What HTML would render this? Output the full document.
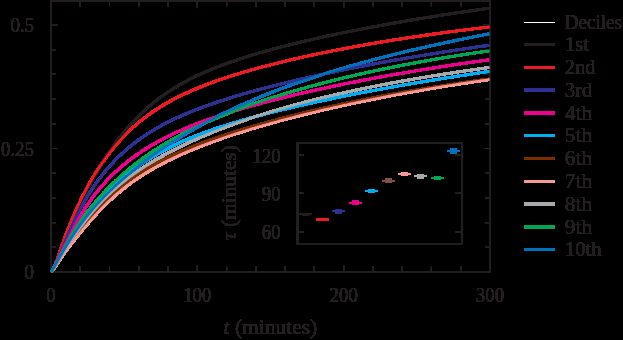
<!DOCTYPE html>
<html><head><meta charset="utf-8"><title>Deciles</title>
<style>html,body{margin:0;padding:0;background:#000;}svg{display:block;}text{font-family:"Liberation Serif",serif;font-size:20px;fill:#231f20;}</style></head><body>
<svg width="623" height="340" viewBox="0 0 623 340">
<defs><filter id="d" filterUnits="userSpaceOnUse" x="0" y="0" width="623" height="340" color-interpolation-filters="sRGB"><feComponentTransfer><feFuncA type="discrete" tableValues="0 1 1 1 1 1 1 1 1 1 1 1 1 1 1 1 1 1 1 1 1 1 1 1 1 1 1 1 1 1 1 1 1 1 1 1 1 1 1 1 1 1 1 1 1 1 1 1 1 1 1 1 1 1 1 1 1 1 1 1 1 1 1 1 1 1 1 1 1 1 1 1 1 1 1 1 1 1 1 1 1 1 1 1 1 1 1 1 1 1 1 1 1 1 1 1 1 1 1 1 1 1 1 1 1 1 1 1 1 1 1 1 1 1 1 1 1 1 1 1 1 1 1 1 1 1 1 1 1 1 1 1 1 1 1 1 1 1 1 1 1 1 1 1 1 1 1 1 1 1 1 1 1 1 1 1 1 1 1 1 1 1 1 1 1 1 1 1 1 1 1 1 1 1 1 1 1 1 1 1 1 1 1 1 1 1 1 1 1 1 1 1 1 1 1 1 1 1 1 1 1 1 1 1 1 1 1 1 1 1 1 1 1 1 1 1 1 1 1 1 1 1 1 1 1 1 1 1 1 1 1 1 1 1 1 1 1 1 1 1 1 1 1 1 1 1 1 1 1 1 1 1 1 1 1 1"/></feComponentTransfer></filter></defs>
<rect x="0" y="0" width="623" height="340" fill="#000"/>
<g filter="url(#d)">
<g stroke="#231f20" fill="none">
<rect x="51.00" y="1.00" width="439.00" height="271.00" stroke-width="1.40"/>
<path d="M80.27 272.00v-5.30M80.27 1.00v5.30M109.53 272.00v-5.30M109.53 1.00v5.30M138.80 272.00v-5.30M138.80 1.00v5.30M168.06 272.00v-5.30M168.06 1.00v5.30M197.33 272.00v-6.30M197.33 1.00v6.30M226.60 272.00v-5.30M226.60 1.00v5.30M255.86 272.00v-5.30M255.86 1.00v5.30M285.13 272.00v-5.30M285.13 1.00v5.30M314.39 272.00v-5.30M314.39 1.00v5.30M343.66 272.00v-6.30M343.66 1.00v6.30M372.93 272.00v-5.30M372.93 1.00v5.30M402.19 272.00v-5.30M402.19 1.00v5.30M431.46 272.00v-5.30M431.46 1.00v5.30M460.72 272.00v-5.30M460.72 1.00v5.30M51.00 247.30h5.00M490.00 247.30h-5.00M51.00 222.60h5.00M490.00 222.60h-5.00M51.00 197.90h5.00M490.00 197.90h-5.00M51.00 173.20h5.00M490.00 173.20h-5.00M51.00 148.50h6.30M490.00 148.50h-6.30M51.00 123.80h5.00M490.00 123.80h-5.00M51.00 99.10h5.00M490.00 99.10h-5.00M51.00 74.40h5.00M490.00 74.40h-5.00M51.00 49.70h5.00M490.00 49.70h-5.00M51.00 25.00h6.30M490.00 25.00h-6.30" stroke-width="0.90"/>
<rect x="297.50" y="143.00" width="164.50" height="101.00" stroke-width="1.40"/>
<path d="M297.50 155.30h6.4M462.00 155.30h-6.4M297.50 193.40h6.4M462.00 193.40h-6.4M297.50 231.90h6.4M462.00 231.90h-6.4" stroke-width="0.90"/>
</g>
<g fill="none" stroke-width="2.60" stroke-linejoin="round" stroke-linecap="butt">
<polyline stroke="#231f20" points="51.2,271.8 51.7,271.4 52.2,270.9 52.7,270.1 53.2,269.3 53.7,268.3 54.2,267.2 54.7,266.0 55.2,264.8 55.7,263.5 56.2,262.2 56.7,260.9 57.2,259.5 57.7,258.2 58.2,256.8 58.7,255.4 59.2,254.1 59.7,252.7 60.2,251.3 60.7,250.0 61.2,248.6 61.7,247.3 62.2,246.0 62.7,244.6 63.2,243.3 63.7,242.0 64.2,240.7 64.7,239.5 65.2,238.2 65.7,236.9 66.2,235.7 66.7,234.4 67.2,233.2 67.7,232.0 68.2,230.8 68.7,229.6 69.2,228.4 69.7,227.2 70.2,226.0 70.7,224.8 71.2,223.7 71.7,222.5 72.2,221.4 72.7,220.2 73.2,219.1 73.7,218.0 74.2,216.9 74.7,215.7 75.2,214.6 75.7,213.5 76.2,212.4 76.7,211.4 77.2,210.3 77.7,209.2 78.2,208.1 78.7,207.1 79.2,206.0 79.7,204.9 80.2,203.9 80.7,202.9 81.2,201.8 81.7,200.8 82.2,199.8 82.7,198.7 83.2,197.7 83.7,196.7 84.2,195.7 84.7,194.7 85.2,193.7 85.7,192.7 86.2,191.7 86.7,190.8 87.2,189.8 87.7,188.8 88.2,187.9 88.7,186.9 89.2,186.0 89.7,185.0 90.2,184.1 90.7,183.1 91.2,182.2 91.7,181.3 92.2,180.4 92.7,179.4 93.2,178.5 93.7,177.6 94.2,176.7 94.7,175.8 95.2,174.9 95.7,174.1 96.2,173.2 96.7,172.3 97.2,171.4 97.7,170.6 98.2,169.7 98.7,168.9 99.2,168.0 99.7,167.2 100.2,166.3 100.7,165.5 101.2,164.7 101.7,163.9 102.2,163.0 102.7,162.2 103.2,161.4 103.7,160.6 104.2,159.8 104.7,159.0 105.2,158.2 105.7,157.5 106.2,156.7 106.7,155.9 107.2,155.1 107.7,154.4 108.2,153.6 108.7,152.9 109.2,152.1 109.7,151.4 110.2,150.6 110.7,149.9 111.2,149.2 111.7,148.5 112.2,147.7 112.7,147.0 113.2,146.3 113.7,145.6 114.2,144.9 114.7,144.2 115.2,143.5 115.7,142.8 116.2,142.2 116.7,141.5 117.2,140.8 117.7,140.1 118.2,139.5 118.7,138.8 119.2,138.2 119.7,137.5 120.2,136.9 120.7,136.2 121.2,135.6 121.7,135.0 122.2,134.3 122.7,133.7 123.2,133.1 123.7,132.5 124.2,131.9 124.7,131.3 125.2,130.7 125.7,130.1 126.2,129.5 126.7,128.9 127.2,128.3 127.7,127.7 128.2,127.1 128.7,126.6 129.2,126.0 129.7,125.4 130.2,124.9 130.7,124.3 131.2,123.8 131.7,123.2 132.2,122.7 132.7,122.1 133.2,121.6 133.7,121.1 134.2,120.5 134.7,120.0 135.2,119.5 135.7,119.0 136.2,118.4 136.7,117.9 137.2,117.4 137.7,116.9 138.2,116.4 138.7,115.9 139.2,115.4 139.7,114.9 140.0,114.6 141.0,113.7 142.0,112.7 143.0,111.8 144.0,110.9 145.0,109.9 146.0,109.0 147.0,108.2 148.0,107.3 149.0,106.4 150.0,105.6 151.0,104.7 152.0,103.9 153.0,103.1 154.0,102.3 155.0,101.5 156.0,100.7 157.0,99.9 158.0,99.1 159.0,98.4 160.0,97.6 161.0,96.9 162.0,96.2 163.0,95.5 164.0,94.8 165.0,94.1 166.0,93.4 167.0,92.7 168.0,92.0 169.0,91.4 170.0,90.7 171.0,90.1 172.0,89.4 173.0,88.8 174.0,88.2 175.0,87.6 176.0,87.0 177.0,86.4 178.0,85.8 179.0,85.2 180.0,84.6 181.0,84.0 182.0,83.5 183.0,82.9 184.0,82.4 185.0,81.8 186.0,81.3 187.0,80.8 188.0,80.2 189.0,79.7 190.0,79.2 191.0,78.7 192.0,78.2 193.0,77.7 194.0,77.2 195.0,76.7 196.0,76.2 197.0,75.7 198.0,75.3 199.0,74.8 200.0,74.3 201.0,73.9 202.0,73.4 203.0,73.0 204.0,72.5 205.0,72.1 206.0,71.7 207.0,71.2 208.0,70.8 209.0,70.4 210.0,70.0 211.0,69.5 212.0,69.1 213.0,68.7 214.0,68.3 215.0,67.9 216.0,67.5 217.0,67.1 218.0,66.7 219.0,66.3 220.0,66.0 221.0,65.6 222.0,65.2 223.0,64.8 224.0,64.5 225.0,64.1 226.0,63.7 227.0,63.4 228.0,63.0 229.0,62.6 230.0,62.3 231.0,61.9 232.0,61.6 233.0,61.2 234.0,60.9 235.0,60.6 236.0,60.2 237.0,59.9 238.0,59.5 239.0,59.2 240.0,58.9 241.0,58.6 242.0,58.2 243.0,57.9 244.0,57.6 245.0,57.3 246.0,57.0 247.0,56.6 248.0,56.3 249.0,56.0 250.0,55.7 251.0,55.4 252.0,55.1 253.0,54.8 254.0,54.5 255.0,54.2 256.0,53.9 257.0,53.6 258.0,53.3 259.0,53.0 260.0,52.7 261.0,52.5 262.0,52.2 263.0,51.9 264.0,51.6 265.0,51.3 266.0,51.0 267.0,50.8 268.0,50.5 269.0,50.2 270.0,49.9 271.0,49.7 272.0,49.4 273.0,49.1 274.0,48.8 275.0,48.6 276.0,48.3 277.0,48.0 278.0,47.8 279.0,47.5 280.0,47.3 281.0,47.0 282.0,46.7 283.0,46.5 284.0,46.2 285.0,46.0 286.0,45.7 287.0,45.5 288.0,45.2 289.0,45.0 290.0,44.7 291.0,44.5 292.0,44.2 293.0,44.0 294.0,43.7 295.0,43.5 296.0,43.2 297.0,43.0 298.0,42.8 299.0,42.5 300.0,42.3 301.0,42.0 302.0,41.8 303.0,41.6 304.0,41.3 305.0,41.1 306.0,40.9 307.0,40.6 308.0,40.4 309.0,40.2 310.0,39.9 311.0,39.7 312.0,39.5 313.0,39.2 314.0,39.0 315.0,38.8 316.0,38.6 317.0,38.3 318.0,38.1 319.0,37.9 320.0,37.7 321.0,37.5 322.0,37.2 323.0,37.0 324.0,36.8 325.0,36.6 326.0,36.4 327.0,36.1 328.0,35.9 329.0,35.7 330.0,35.5 331.0,35.3 332.0,35.1 333.0,34.9 334.0,34.6 335.0,34.4 336.0,34.2 337.0,34.0 338.0,33.8 339.0,33.6 340.0,33.4 341.0,33.2 342.0,33.0 343.0,32.8 344.0,32.6 345.0,32.4 346.0,32.2 347.0,32.0 348.0,31.8 349.0,31.6 350.0,31.4 351.0,31.2 352.0,31.0 353.0,30.8 354.0,30.6 355.0,30.4 356.0,30.2 357.0,30.0 358.0,29.8 359.0,29.6 360.0,29.4 361.0,29.2 362.0,29.0 363.0,28.8 364.0,28.6 365.0,28.4 366.0,28.2 367.0,28.0 368.0,27.8 369.0,27.7 370.0,27.5 371.0,27.3 372.0,27.1 373.0,26.9 374.0,26.7 375.0,26.5 376.0,26.3 377.0,26.2 378.0,26.0 379.0,25.8 380.0,25.6 381.0,25.4 382.0,25.2 383.0,25.0 384.0,24.9 385.0,24.7 386.0,24.5 387.0,24.3 388.0,24.1 389.0,24.0 390.0,23.8 391.0,23.6 392.0,23.4 393.0,23.3 394.0,23.1 395.0,22.9 396.0,22.7 397.0,22.5 398.0,22.4 399.0,22.2 400.0,22.0 401.0,21.9 402.0,21.7 403.0,21.5 404.0,21.3 405.0,21.2 406.0,21.0 407.0,20.8 408.0,20.7 409.0,20.5 410.0,20.3 411.0,20.1 412.0,20.0 413.0,19.8 414.0,19.6 415.0,19.5 416.0,19.3 417.0,19.1 418.0,19.0 419.0,18.8 420.0,18.6 421.0,18.5 422.0,18.3 423.0,18.2 424.0,18.0 425.0,17.8 426.0,17.7 427.0,17.5 428.0,17.3 429.0,17.2 430.0,17.0 431.0,16.9 432.0,16.7 433.0,16.5 434.0,16.4 435.0,16.2 436.0,16.1 437.0,15.9 438.0,15.8 439.0,15.6 440.0,15.4 441.0,15.3 442.0,15.1 443.0,15.0 444.0,14.8 445.0,14.7 446.0,14.5 447.0,14.4 448.0,14.2 449.0,14.1 450.0,13.9 451.0,13.7 452.0,13.6 453.0,13.4 454.0,13.3 455.0,13.1 456.0,13.0 457.0,12.8 458.0,12.7 459.0,12.5 460.0,12.4 461.0,12.3 462.0,12.1 463.0,12.0 464.0,11.8 465.0,11.7 466.0,11.5 467.0,11.4 468.0,11.2 469.0,11.1 470.0,10.9 471.0,10.8 472.0,10.7 473.0,10.5 474.0,10.4 475.0,10.2 476.0,10.1 477.0,9.9 478.0,9.8 479.0,9.7 480.0,9.5 481.0,9.4 482.0,9.2 483.0,9.1 484.0,9.0 485.0,8.8 486.0,8.7 487.0,8.5 488.0,8.4 489.0,8.3 489.6,8.2"/>
<polyline stroke="#ed1c24" points="51.2,271.8 51.7,271.4 52.2,270.8 52.7,270.1 53.2,269.2 53.7,268.2 54.2,267.1 54.7,265.9 55.2,264.6 55.7,263.3 56.2,262.0 56.7,260.6 57.2,259.2 57.7,257.8 58.2,256.4 58.7,254.9 59.2,253.5 59.7,252.0 60.2,250.6 60.7,249.2 61.2,247.7 61.7,246.3 62.2,244.9 62.7,243.5 63.2,242.1 63.7,240.7 64.2,239.3 64.7,238.0 65.2,236.6 65.7,235.3 66.2,233.9 66.7,232.6 67.2,231.3 67.7,230.0 68.2,228.8 68.7,227.5 69.2,226.2 69.7,225.0 70.2,223.8 70.7,222.5 71.2,221.3 71.7,220.1 72.2,218.9 72.7,217.8 73.2,216.6 73.7,215.4 74.2,214.3 74.7,213.1 75.2,212.0 75.7,210.9 76.2,209.8 76.7,208.7 77.2,207.6 77.7,206.5 78.2,205.5 78.7,204.4 79.2,203.3 79.7,202.3 80.2,201.3 80.7,200.2 81.2,199.2 81.7,198.2 82.2,197.2 82.7,196.2 83.2,195.2 83.7,194.3 84.2,193.3 84.7,192.3 85.2,191.4 85.7,190.4 86.2,189.5 86.7,188.6 87.2,187.6 87.7,186.7 88.2,185.8 88.7,184.9 89.2,184.0 89.7,183.1 90.2,182.2 90.7,181.4 91.2,180.5 91.7,179.6 92.2,178.8 92.7,177.9 93.2,177.1 93.7,176.3 94.2,175.4 94.7,174.6 95.2,173.8 95.7,173.0 96.2,172.2 96.7,171.4 97.2,170.6 97.7,169.8 98.2,169.0 98.7,168.3 99.2,167.5 99.7,166.7 100.2,166.0 100.7,165.2 101.2,164.5 101.7,163.8 102.2,163.0 102.7,162.3 103.2,161.6 103.7,160.9 104.2,160.2 104.7,159.5 105.2,158.8 105.7,158.1 106.2,157.4 106.7,156.7 107.2,156.0 107.7,155.3 108.2,154.7 108.7,154.0 109.2,153.4 109.7,152.7 110.2,152.1 110.7,151.4 111.2,150.8 111.7,150.2 112.2,149.5 112.7,148.9 113.2,148.3 113.7,147.7 114.2,147.1 114.7,146.5 115.2,145.9 115.7,145.3 116.2,144.7 116.7,144.1 117.2,143.5 117.7,143.0 118.2,142.4 118.7,141.8 119.2,141.3 119.7,140.7 120.2,140.2 120.7,139.6 121.2,139.1 121.7,138.5 122.2,138.0 122.7,137.5 123.2,136.9 123.7,136.4 124.2,135.9 124.7,135.4 125.2,134.9 125.7,134.4 126.2,133.9 126.7,133.4 127.2,132.9 127.7,132.4 128.2,131.9 128.7,131.4 129.2,130.9 129.7,130.4 130.2,130.0 130.7,129.5 131.2,129.0 131.7,128.6 132.2,128.1 132.7,127.6 133.2,127.2 133.7,126.7 134.2,126.3 134.7,125.9 135.2,125.4 135.7,125.0 136.2,124.5 136.7,124.1 137.2,123.7 137.7,123.3 138.2,122.8 138.7,122.4 139.2,122.0 139.7,121.6 140.0,121.4 141.0,120.5 142.0,119.7 143.0,119.0 144.0,118.2 145.0,117.4 146.0,116.7 147.0,115.9 148.0,115.2 149.0,114.5 150.0,113.7 151.0,113.0 152.0,112.3 153.0,111.7 154.0,111.0 155.0,110.3 156.0,109.7 157.0,109.0 158.0,108.4 159.0,107.7 160.0,107.1 161.0,106.5 162.0,105.9 163.0,105.3 164.0,104.7 165.0,104.1 166.0,103.5 167.0,102.9 168.0,102.4 169.0,101.8 170.0,101.3 171.0,100.7 172.0,100.2 173.0,99.6 174.0,99.1 175.0,98.6 176.0,98.1 177.0,97.6 178.0,97.1 179.0,96.6 180.0,96.1 181.0,95.6 182.0,95.1 183.0,94.6 184.0,94.1 185.0,93.7 186.0,93.2 187.0,92.8 188.0,92.3 189.0,91.8 190.0,91.4 191.0,91.0 192.0,90.5 193.0,90.1 194.0,89.7 195.0,89.2 196.0,88.8 197.0,88.4 198.0,88.0 199.0,87.6 200.0,87.2 201.0,86.8 202.0,86.4 203.0,86.0 204.0,85.6 205.0,85.2 206.0,84.8 207.0,84.4 208.0,84.0 209.0,83.7 210.0,83.3 211.0,82.9 212.0,82.5 213.0,82.2 214.0,81.8 215.0,81.5 216.0,81.1 217.0,80.8 218.0,80.4 219.0,80.1 220.0,79.7 221.0,79.4 222.0,79.0 223.0,78.7 224.0,78.3 225.0,78.0 226.0,77.7 227.0,77.4 228.0,77.0 229.0,76.7 230.0,76.4 231.0,76.1 232.0,75.7 233.0,75.4 234.0,75.1 235.0,74.8 236.0,74.5 237.0,74.2 238.0,73.9 239.0,73.6 240.0,73.3 241.0,73.0 242.0,72.7 243.0,72.4 244.0,72.1 245.0,71.8 246.0,71.5 247.0,71.2 248.0,70.9 249.0,70.6 250.0,70.3 251.0,70.0 252.0,69.8 253.0,69.5 254.0,69.2 255.0,68.9 256.0,68.7 257.0,68.4 258.0,68.1 259.0,67.8 260.0,67.6 261.0,67.3 262.0,67.0 263.0,66.8 264.0,66.5 265.0,66.2 266.0,66.0 267.0,65.7 268.0,65.4 269.0,65.2 270.0,64.9 271.0,64.7 272.0,64.4 273.0,64.2 274.0,63.9 275.0,63.7 276.0,63.4 277.0,63.2 278.0,62.9 279.0,62.7 280.0,62.4 281.0,62.2 282.0,61.9 283.0,61.7 284.0,61.4 285.0,61.2 286.0,61.0 287.0,60.7 288.0,60.5 289.0,60.3 290.0,60.0 291.0,59.8 292.0,59.6 293.0,59.3 294.0,59.1 295.0,58.9 296.0,58.6 297.0,58.4 298.0,58.2 299.0,58.0 300.0,57.7 301.0,57.5 302.0,57.3 303.0,57.1 304.0,56.8 305.0,56.6 306.0,56.4 307.0,56.2 308.0,56.0 309.0,55.7 310.0,55.5 311.0,55.3 312.0,55.1 313.0,54.9 314.0,54.7 315.0,54.5 316.0,54.3 317.0,54.0 318.0,53.8 319.0,53.6 320.0,53.4 321.0,53.2 322.0,53.0 323.0,52.8 324.0,52.6 325.0,52.4 326.0,52.2 327.0,52.0 328.0,51.8 329.0,51.6 330.0,51.4 331.0,51.2 332.0,51.0 333.0,50.8 334.0,50.6 335.0,50.4 336.0,50.2 337.0,50.0 338.0,49.8 339.0,49.6 340.0,49.4 341.0,49.2 342.0,49.0 343.0,48.9 344.0,48.7 345.0,48.5 346.0,48.3 347.0,48.1 348.0,47.9 349.0,47.7 350.0,47.5 351.0,47.4 352.0,47.2 353.0,47.0 354.0,46.8 355.0,46.6 356.0,46.4 357.0,46.3 358.0,46.1 359.0,45.9 360.0,45.7 361.0,45.5 362.0,45.4 363.0,45.2 364.0,45.0 365.0,44.8 366.0,44.7 367.0,44.5 368.0,44.3 369.0,44.1 370.0,44.0 371.0,43.8 372.0,43.6 373.0,43.4 374.0,43.3 375.0,43.1 376.0,42.9 377.0,42.8 378.0,42.6 379.0,42.4 380.0,42.3 381.0,42.1 382.0,41.9 383.0,41.8 384.0,41.6 385.0,41.4 386.0,41.3 387.0,41.1 388.0,40.9 389.0,40.8 390.0,40.6 391.0,40.5 392.0,40.3 393.0,40.1 394.0,40.0 395.0,39.8 396.0,39.7 397.0,39.5 398.0,39.3 399.0,39.2 400.0,39.0 401.0,38.9 402.0,38.7 403.0,38.6 404.0,38.4 405.0,38.3 406.0,38.1 407.0,37.9 408.0,37.8 409.0,37.6 410.0,37.5 411.0,37.3 412.0,37.2 413.0,37.0 414.0,36.9 415.0,36.7 416.0,36.6 417.0,36.4 418.0,36.3 419.0,36.2 420.0,36.0 421.0,35.9 422.0,35.7 423.0,35.6 424.0,35.4 425.0,35.3 426.0,35.1 427.0,35.0 428.0,34.9 429.0,34.7 430.0,34.6 431.0,34.4 432.0,34.3 433.0,34.1 434.0,34.0 435.0,33.9 436.0,33.7 437.0,33.6 438.0,33.5 439.0,33.3 440.0,33.2 441.0,33.0 442.0,32.9 443.0,32.8 444.0,32.6 445.0,32.5 446.0,32.4 447.0,32.2 448.0,32.1 449.0,32.0 450.0,31.8 451.0,31.7 452.0,31.6 453.0,31.4 454.0,31.3 455.0,31.2 456.0,31.1 457.0,30.9 458.0,30.8 459.0,30.7 460.0,30.5 461.0,30.4 462.0,30.3 463.0,30.2 464.0,30.0 465.0,29.9 466.0,29.8 467.0,29.7 468.0,29.5 469.0,29.4 470.0,29.3 471.0,29.2 472.0,29.0 473.0,28.9 474.0,28.8 475.0,28.7 476.0,28.5 477.0,28.4 478.0,28.3 479.0,28.2 480.0,28.1 481.0,27.9 482.0,27.8 483.0,27.7 484.0,27.6 485.0,27.5 486.0,27.3 487.0,27.2 488.0,27.1 489.0,27.0 489.6,26.9"/>
<polyline stroke="#2e3192" points="51.2,271.8 51.7,271.2 52.2,270.5 52.7,269.7 53.2,268.9 53.7,268.0 54.2,267.1 54.7,266.1 55.2,265.0 55.7,263.9 56.2,262.8 56.7,261.7 57.2,260.5 57.7,259.4 58.2,258.2 58.7,256.9 59.2,255.7 59.7,254.5 60.2,253.2 60.7,252.0 61.2,250.8 61.7,249.5 62.2,248.3 62.7,247.0 63.2,245.8 63.7,244.5 64.2,243.3 64.7,242.1 65.2,240.9 65.7,239.7 66.2,238.5 66.7,237.3 67.2,236.1 67.7,234.9 68.2,233.7 68.7,232.6 69.2,231.4 69.7,230.3 70.2,229.2 70.7,228.0 71.2,226.9 71.7,225.8 72.2,224.8 72.7,223.7 73.2,222.6 73.7,221.6 74.2,220.5 74.7,219.5 75.2,218.5 75.7,217.4 76.2,216.4 76.7,215.4 77.2,214.5 77.7,213.5 78.2,212.5 78.7,211.6 79.2,210.6 79.7,209.7 80.2,208.7 80.7,207.8 81.2,206.9 81.7,206.0 82.2,205.1 82.7,204.2 83.2,203.3 83.7,202.5 84.2,201.6 84.7,200.7 85.2,199.9 85.7,199.1 86.2,198.2 86.7,197.4 87.2,196.6 87.7,195.8 88.2,195.0 88.7,194.2 89.2,193.4 89.7,192.6 90.2,191.8 90.7,191.1 91.2,190.3 91.7,189.5 92.2,188.8 92.7,188.0 93.2,187.3 93.7,186.6 94.2,185.8 94.7,185.1 95.2,184.4 95.7,183.7 96.2,183.0 96.7,182.3 97.2,181.6 97.7,180.9 98.2,180.3 98.7,179.6 99.2,178.9 99.7,178.3 100.2,177.6 100.7,177.0 101.2,176.3 101.7,175.7 102.2,175.0 102.7,174.4 103.2,173.8 103.7,173.2 104.2,172.6 104.7,171.9 105.2,171.3 105.7,170.7 106.2,170.1 106.7,169.6 107.2,169.0 107.7,168.4 108.2,167.8 108.7,167.2 109.2,166.7 109.7,166.1 110.2,165.5 110.7,165.0 111.2,164.4 111.7,163.9 112.2,163.4 112.7,162.8 113.2,162.3 113.7,161.8 114.2,161.2 114.7,160.7 115.2,160.2 115.7,159.7 116.2,159.2 116.7,158.7 117.2,158.2 117.7,157.7 118.2,157.2 118.7,156.7 119.2,156.2 119.7,155.7 120.2,155.2 120.7,154.8 121.2,154.3 121.7,153.8 122.2,153.4 122.7,152.9 123.2,152.4 123.7,152.0 124.2,151.5 124.7,151.1 125.2,150.7 125.7,150.2 126.2,149.8 126.7,149.3 127.2,148.9 127.7,148.5 128.2,148.1 128.7,147.6 129.2,147.2 129.7,146.8 130.2,146.4 130.7,146.0 131.2,145.6 131.7,145.2 132.2,144.8 132.7,144.4 133.2,144.0 133.7,143.6 134.2,143.2 134.7,142.8 135.2,142.4 135.7,142.0 136.2,141.7 136.7,141.3 137.2,140.9 137.7,140.6 138.2,140.2 138.7,139.8 139.2,139.5 139.7,139.1 140.0,138.9 141.0,138.2 142.0,137.5 143.0,136.8 144.0,136.1 145.0,135.4 146.0,134.8 147.0,134.1 148.0,133.5 149.0,132.8 150.0,132.2 151.0,131.6 152.0,131.0 153.0,130.4 154.0,129.8 155.0,129.2 156.0,128.6 157.0,128.0 158.0,127.4 159.0,126.9 160.0,126.3 161.0,125.8 162.0,125.2 163.0,124.7 164.0,124.1 165.0,123.6 166.0,123.1 167.0,122.6 168.0,122.1 169.0,121.6 170.0,121.1 171.0,120.6 172.0,120.1 173.0,119.6 174.0,119.1 175.0,118.7 176.0,118.2 177.0,117.7 178.0,117.3 179.0,116.8 180.0,116.4 181.0,115.9 182.0,115.5 183.0,115.1 184.0,114.6 185.0,114.2 186.0,113.8 187.0,113.3 188.0,112.9 189.0,112.5 190.0,112.1 191.0,111.7 192.0,111.3 193.0,110.9 194.0,110.5 195.0,110.1 196.0,109.7 197.0,109.3 198.0,108.9 199.0,108.6 200.0,108.2 201.0,107.8 202.0,107.4 203.0,107.1 204.0,106.7 205.0,106.3 206.0,106.0 207.0,105.6 208.0,105.3 209.0,104.9 210.0,104.5 211.0,104.2 212.0,103.9 213.0,103.5 214.0,103.2 215.0,102.8 216.0,102.5 217.0,102.2 218.0,101.8 219.0,101.5 220.0,101.2 221.0,100.8 222.0,100.5 223.0,100.2 224.0,99.9 225.0,99.5 226.0,99.2 227.0,98.9 228.0,98.6 229.0,98.3 230.0,98.0 231.0,97.7 232.0,97.4 233.0,97.0 234.0,96.7 235.0,96.4 236.0,96.1 237.0,95.8 238.0,95.5 239.0,95.2 240.0,95.0 241.0,94.7 242.0,94.4 243.0,94.1 244.0,93.8 245.0,93.5 246.0,93.2 247.0,92.9 248.0,92.6 249.0,92.4 250.0,92.1 251.0,91.8 252.0,91.5 253.0,91.2 254.0,91.0 255.0,90.7 256.0,90.4 257.0,90.1 258.0,89.9 259.0,89.6 260.0,89.3 261.0,89.1 262.0,88.8 263.0,88.5 264.0,88.3 265.0,88.0 266.0,87.7 267.0,87.5 268.0,87.2 269.0,87.0 270.0,86.7 271.0,86.4 272.0,86.2 273.0,85.9 274.0,85.7 275.0,85.4 276.0,85.2 277.0,84.9 278.0,84.7 279.0,84.4 280.0,84.2 281.0,83.9 282.0,83.7 283.0,83.4 284.0,83.2 285.0,82.9 286.0,82.7 287.0,82.5 288.0,82.2 289.0,82.0 290.0,81.7 291.0,81.5 292.0,81.3 293.0,81.0 294.0,80.8 295.0,80.5 296.0,80.3 297.0,80.1 298.0,79.8 299.0,79.6 300.0,79.4 301.0,79.1 302.0,78.9 303.0,78.7 304.0,78.4 305.0,78.2 306.0,78.0 307.0,77.8 308.0,77.5 309.0,77.3 310.0,77.1 311.0,76.9 312.0,76.6 313.0,76.4 314.0,76.2 315.0,76.0 316.0,75.7 317.0,75.5 318.0,75.3 319.0,75.1 320.0,74.9 321.0,74.7 322.0,74.4 323.0,74.2 324.0,74.0 325.0,73.8 326.0,73.6 327.0,73.4 328.0,73.1 329.0,72.9 330.0,72.7 331.0,72.5 332.0,72.3 333.0,72.1 334.0,71.9 335.0,71.7 336.0,71.5 337.0,71.3 338.0,71.0 339.0,70.8 340.0,70.6 341.0,70.4 342.0,70.2 343.0,70.0 344.0,69.8 345.0,69.6 346.0,69.4 347.0,69.2 348.0,69.0 349.0,68.8 350.0,68.6 351.0,68.4 352.0,68.2 353.0,68.0 354.0,67.8 355.0,67.6 356.0,67.4 357.0,67.2 358.0,67.0 359.0,66.8 360.0,66.6 361.0,66.4 362.0,66.2 363.0,66.0 364.0,65.9 365.0,65.7 366.0,65.5 367.0,65.3 368.0,65.1 369.0,64.9 370.0,64.7 371.0,64.5 372.0,64.3 373.0,64.1 374.0,63.9 375.0,63.8 376.0,63.6 377.0,63.4 378.0,63.2 379.0,63.0 380.0,62.8 381.0,62.6 382.0,62.5 383.0,62.3 384.0,62.1 385.0,61.9 386.0,61.7 387.0,61.5 388.0,61.4 389.0,61.2 390.0,61.0 391.0,60.8 392.0,60.6 393.0,60.5 394.0,60.3 395.0,60.1 396.0,59.9 397.0,59.8 398.0,59.6 399.0,59.4 400.0,59.2 401.0,59.1 402.0,58.9 403.0,58.7 404.0,58.5 405.0,58.4 406.0,58.2 407.0,58.0 408.0,57.8 409.0,57.7 410.0,57.5 411.0,57.3 412.0,57.2 413.0,57.0 414.0,56.8 415.0,56.7 416.0,56.5 417.0,56.3 418.0,56.2 419.0,56.0 420.0,55.8 421.0,55.7 422.0,55.5 423.0,55.3 424.0,55.2 425.0,55.0 426.0,54.8 427.0,54.7 428.0,54.5 429.0,54.3 430.0,54.2 431.0,54.0 432.0,53.9 433.0,53.7 434.0,53.5 435.0,53.4 436.0,53.2 437.0,53.0 438.0,52.9 439.0,52.7 440.0,52.6 441.0,52.4 442.0,52.3 443.0,52.1 444.0,51.9 445.0,51.8 446.0,51.6 447.0,51.5 448.0,51.3 449.0,51.2 450.0,51.0 451.0,50.9 452.0,50.7 453.0,50.6 454.0,50.4 455.0,50.2 456.0,50.1 457.0,49.9 458.0,49.8 459.0,49.6 460.0,49.5 461.0,49.3 462.0,49.2 463.0,49.0 464.0,48.9 465.0,48.7 466.0,48.6 467.0,48.4 468.0,48.3 469.0,48.2 470.0,48.0 471.0,47.9 472.0,47.7 473.0,47.6 474.0,47.4 475.0,47.3 476.0,47.1 477.0,47.0 478.0,46.8 479.0,46.7 480.0,46.6 481.0,46.4 482.0,46.3 483.0,46.1 484.0,46.0 485.0,45.9 486.0,45.7 487.0,45.6 488.0,45.4 489.0,45.3 489.6,45.2"/>
<polyline stroke="#ec008c" points="51.2,271.8 51.7,270.9 52.2,270.0 52.7,269.1 53.2,268.2 53.7,267.2 54.2,266.3 54.7,265.3 55.2,264.4 55.7,263.4 56.2,262.4 56.7,261.4 57.2,260.4 57.7,259.4 58.2,258.4 58.7,257.4 59.2,256.4 59.7,255.3 60.2,254.3 60.7,253.3 61.2,252.3 61.7,251.2 62.2,250.2 62.7,249.2 63.2,248.2 63.7,247.2 64.2,246.1 64.7,245.1 65.2,244.1 65.7,243.1 66.2,242.1 66.7,241.1 67.2,240.1 67.7,239.1 68.2,238.1 68.7,237.1 69.2,236.2 69.7,235.2 70.2,234.2 70.7,233.3 71.2,232.3 71.7,231.4 72.2,230.4 72.7,229.5 73.2,228.6 73.7,227.6 74.2,226.7 74.7,225.8 75.2,224.9 75.7,224.0 76.2,223.1 76.7,222.2 77.2,221.3 77.7,220.5 78.2,219.6 78.7,218.8 79.2,217.9 79.7,217.1 80.2,216.2 80.7,215.4 81.2,214.6 81.7,213.8 82.2,212.9 82.7,212.1 83.2,211.3 83.7,210.6 84.2,209.8 84.7,209.0 85.2,208.2 85.7,207.5 86.2,206.7 86.7,206.0 87.2,205.2 87.7,204.5 88.2,203.7 88.7,203.0 89.2,202.3 89.7,201.6 90.2,200.9 90.7,200.2 91.2,199.5 91.7,198.8 92.2,198.1 92.7,197.4 93.2,196.8 93.7,196.1 94.2,195.5 94.7,194.8 95.2,194.2 95.7,193.5 96.2,192.9 96.7,192.2 97.2,191.6 97.7,191.0 98.2,190.4 98.7,189.8 99.2,189.2 99.7,188.6 100.2,188.0 100.7,187.4 101.2,186.8 101.7,186.2 102.2,185.6 102.7,185.1 103.2,184.5 103.7,183.9 104.2,183.4 104.7,182.8 105.2,182.3 105.7,181.7 106.2,181.2 106.7,180.7 107.2,180.1 107.7,179.6 108.2,179.1 108.7,178.6 109.2,178.1 109.7,177.5 110.2,177.0 110.7,176.5 111.2,176.0 111.7,175.5 112.2,175.1 112.7,174.6 113.2,174.1 113.7,173.6 114.2,173.1 114.7,172.7 115.2,172.2 115.7,171.7 116.2,171.3 116.7,170.8 117.2,170.3 117.7,169.9 118.2,169.4 118.7,169.0 119.2,168.6 119.7,168.1 120.2,167.7 120.7,167.2 121.2,166.8 121.7,166.4 122.2,166.0 122.7,165.5 123.2,165.1 123.7,164.7 124.2,164.3 124.7,163.9 125.2,163.5 125.7,163.1 126.2,162.7 126.7,162.3 127.2,161.9 127.7,161.5 128.2,161.1 128.7,160.7 129.2,160.3 129.7,159.9 130.2,159.6 130.7,159.2 131.2,158.8 131.7,158.4 132.2,158.1 132.7,157.7 133.2,157.3 133.7,157.0 134.2,156.6 134.7,156.2 135.2,155.9 135.7,155.5 136.2,155.2 136.7,154.8 137.2,154.5 137.7,154.1 138.2,153.8 138.7,153.5 139.2,153.1 139.7,152.8 140.0,152.6 141.0,151.9 142.0,151.2 143.0,150.6 144.0,150.0 145.0,149.3 146.0,148.7 147.0,148.1 148.0,147.5 149.0,146.8 150.0,146.2 151.0,145.7 152.0,145.1 153.0,144.5 154.0,143.9 155.0,143.3 156.0,142.8 157.0,142.2 158.0,141.7 159.0,141.1 160.0,140.6 161.0,140.1 162.0,139.5 163.0,139.0 164.0,138.5 165.0,138.0 166.0,137.5 167.0,137.0 168.0,136.5 169.0,136.0 170.0,135.5 171.0,135.0 172.0,134.5 173.0,134.0 174.0,133.6 175.0,133.1 176.0,132.6 177.0,132.2 178.0,131.7 179.0,131.3 180.0,130.8 181.0,130.4 182.0,129.9 183.0,129.5 184.0,129.1 185.0,128.7 186.0,128.2 187.0,127.8 188.0,127.4 189.0,127.0 190.0,126.6 191.0,126.2 192.0,125.8 193.0,125.4 194.0,125.0 195.0,124.6 196.0,124.2 197.0,123.8 198.0,123.4 199.0,123.0 200.0,122.6 201.0,122.3 202.0,121.9 203.0,121.5 204.0,121.1 205.0,120.8 206.0,120.4 207.0,120.0 208.0,119.7 209.0,119.3 210.0,119.0 211.0,118.6 212.0,118.3 213.0,117.9 214.0,117.6 215.0,117.2 216.0,116.9 217.0,116.5 218.0,116.2 219.0,115.9 220.0,115.5 221.0,115.2 222.0,114.9 223.0,114.6 224.0,114.2 225.0,113.9 226.0,113.6 227.0,113.3 228.0,112.9 229.0,112.6 230.0,112.3 231.0,112.0 232.0,111.7 233.0,111.4 234.0,111.1 235.0,110.8 236.0,110.5 237.0,110.2 238.0,109.9 239.0,109.6 240.0,109.3 241.0,109.0 242.0,108.7 243.0,108.4 244.0,108.1 245.0,107.8 246.0,107.5 247.0,107.2 248.0,106.9 249.0,106.7 250.0,106.4 251.0,106.1 252.0,105.8 253.0,105.5 254.0,105.2 255.0,105.0 256.0,104.7 257.0,104.4 258.0,104.1 259.0,103.9 260.0,103.6 261.0,103.3 262.0,103.1 263.0,102.8 264.0,102.5 265.0,102.3 266.0,102.0 267.0,101.7 268.0,101.5 269.0,101.2 270.0,101.0 271.0,100.7 272.0,100.4 273.0,100.2 274.0,99.9 275.0,99.7 276.0,99.4 277.0,99.2 278.0,98.9 279.0,98.7 280.0,98.4 281.0,98.2 282.0,97.9 283.0,97.7 284.0,97.4 285.0,97.2 286.0,96.9 287.0,96.7 288.0,96.4 289.0,96.2 290.0,96.0 291.0,95.7 292.0,95.5 293.0,95.2 294.0,95.0 295.0,94.8 296.0,94.5 297.0,94.3 298.0,94.1 299.0,93.8 300.0,93.6 301.0,93.4 302.0,93.1 303.0,92.9 304.0,92.7 305.0,92.4 306.0,92.2 307.0,92.0 308.0,91.8 309.0,91.5 310.0,91.3 311.0,91.1 312.0,90.9 313.0,90.6 314.0,90.4 315.0,90.2 316.0,90.0 317.0,89.7 318.0,89.5 319.0,89.3 320.0,89.1 321.0,88.9 322.0,88.7 323.0,88.4 324.0,88.2 325.0,88.0 326.0,87.8 327.0,87.6 328.0,87.4 329.0,87.2 330.0,86.9 331.0,86.7 332.0,86.5 333.0,86.3 334.0,86.1 335.0,85.9 336.0,85.7 337.0,85.5 338.0,85.3 339.0,85.1 340.0,84.9 341.0,84.7 342.0,84.5 343.0,84.3 344.0,84.0 345.0,83.8 346.0,83.6 347.0,83.4 348.0,83.2 349.0,83.0 350.0,82.8 351.0,82.6 352.0,82.4 353.0,82.2 354.0,82.0 355.0,81.9 356.0,81.7 357.0,81.5 358.0,81.3 359.0,81.1 360.0,80.9 361.0,80.7 362.0,80.5 363.0,80.3 364.0,80.1 365.0,79.9 366.0,79.7 367.0,79.5 368.0,79.3 369.0,79.2 370.0,79.0 371.0,78.8 372.0,78.6 373.0,78.4 374.0,78.2 375.0,78.0 376.0,77.8 377.0,77.7 378.0,77.5 379.0,77.3 380.0,77.1 381.0,76.9 382.0,76.7 383.0,76.6 384.0,76.4 385.0,76.2 386.0,76.0 387.0,75.8 388.0,75.7 389.0,75.5 390.0,75.3 391.0,75.1 392.0,74.9 393.0,74.8 394.0,74.6 395.0,74.4 396.0,74.2 397.0,74.1 398.0,73.9 399.0,73.7 400.0,73.5 401.0,73.4 402.0,73.2 403.0,73.0 404.0,72.9 405.0,72.7 406.0,72.5 407.0,72.3 408.0,72.2 409.0,72.0 410.0,71.8 411.0,71.7 412.0,71.5 413.0,71.3 414.0,71.2 415.0,71.0 416.0,70.8 417.0,70.7 418.0,70.5 419.0,70.3 420.0,70.2 421.0,70.0 422.0,69.8 423.0,69.7 424.0,69.5 425.0,69.3 426.0,69.2 427.0,69.0 428.0,68.9 429.0,68.7 430.0,68.5 431.0,68.4 432.0,68.2 433.0,68.1 434.0,67.9 435.0,67.7 436.0,67.6 437.0,67.4 438.0,67.3 439.0,67.1 440.0,67.0 441.0,66.8 442.0,66.7 443.0,66.5 444.0,66.3 445.0,66.2 446.0,66.0 447.0,65.9 448.0,65.7 449.0,65.6 450.0,65.4 451.0,65.3 452.0,65.1 453.0,65.0 454.0,64.8 455.0,64.7 456.0,64.5 457.0,64.4 458.0,64.2 459.0,64.1 460.0,63.9 461.0,63.8 462.0,63.6 463.0,63.5 464.0,63.3 465.0,63.2 466.0,63.0 467.0,62.9 468.0,62.8 469.0,62.6 470.0,62.5 471.0,62.3 472.0,62.2 473.0,62.0 474.0,61.9 475.0,61.7 476.0,61.6 477.0,61.5 478.0,61.3 479.0,61.2 480.0,61.0 481.0,60.9 482.0,60.8 483.0,60.6 484.0,60.5 485.0,60.3 486.0,60.2 487.0,60.1 488.0,59.9 489.0,59.8 489.6,59.7"/>
<polyline stroke="#00aeef" points="51.2,271.8 51.7,270.9 52.2,270.1 52.7,269.2 53.2,268.4 53.7,267.5 54.2,266.6 54.7,265.7 55.2,264.8 55.7,264.0 56.2,263.1 56.7,262.2 57.2,261.3 57.7,260.4 58.2,259.5 58.7,258.6 59.2,257.7 59.7,256.8 60.2,256.0 60.7,255.1 61.2,254.2 61.7,253.3 62.2,252.5 62.7,251.6 63.2,250.7 63.7,249.9 64.2,249.0 64.7,248.2 65.2,247.4 65.7,246.5 66.2,245.7 66.7,244.9 67.2,244.1 67.7,243.3 68.2,242.5 68.7,241.6 69.2,240.9 69.7,240.1 70.2,239.3 70.7,238.5 71.2,237.7 71.7,237.0 72.2,236.2 72.7,235.4 73.2,234.7 73.7,233.9 74.2,233.2 74.7,232.4 75.2,231.7 75.7,231.0 76.2,230.2 76.7,229.5 77.2,228.8 77.7,228.1 78.2,227.4 78.7,226.7 79.2,226.0 79.7,225.3 80.2,224.6 80.7,223.9 81.2,223.2 81.7,222.5 82.2,221.9 82.7,221.2 83.2,220.5 83.7,219.9 84.2,219.2 84.7,218.5 85.2,217.9 85.7,217.2 86.2,216.6 86.7,216.0 87.2,215.3 87.7,214.7 88.2,214.0 88.7,213.4 89.2,212.8 89.7,212.2 90.2,211.6 90.7,211.0 91.2,210.3 91.7,209.7 92.2,209.1 92.7,208.5 93.2,207.9 93.7,207.4 94.2,206.8 94.7,206.2 95.2,205.6 95.7,205.0 96.2,204.4 96.7,203.9 97.2,203.3 97.7,202.7 98.2,202.2 98.7,201.6 99.2,201.1 99.7,200.5 100.2,199.9 100.7,199.4 101.2,198.9 101.7,198.3 102.2,197.8 102.7,197.2 103.2,196.7 103.7,196.2 104.2,195.7 104.7,195.1 105.2,194.6 105.7,194.1 106.2,193.6 106.7,193.1 107.2,192.6 107.7,192.1 108.2,191.6 108.7,191.1 109.2,190.6 109.7,190.1 110.2,189.6 110.7,189.1 111.2,188.6 111.7,188.1 112.2,187.6 112.7,187.2 113.2,186.7 113.7,186.2 114.2,185.7 114.7,185.3 115.2,184.8 115.7,184.4 116.2,183.9 116.7,183.4 117.2,183.0 117.7,182.5 118.2,182.1 118.7,181.7 119.2,181.2 119.7,180.8 120.2,180.3 120.7,179.9 121.2,179.5 121.7,179.0 122.2,178.6 122.7,178.2 123.2,177.8 123.7,177.3 124.2,176.9 124.7,176.5 125.2,176.1 125.7,175.7 126.2,175.3 126.7,174.9 127.2,174.5 127.7,174.1 128.2,173.7 128.7,173.3 129.2,172.9 129.7,172.5 130.2,172.1 130.7,171.7 131.2,171.3 131.7,170.9 132.2,170.6 132.7,170.2 133.2,169.8 133.7,169.4 134.2,169.1 134.7,168.7 135.2,168.3 135.7,168.0 136.2,167.6 136.7,167.2 137.2,166.9 137.7,166.5 138.2,166.2 138.7,165.8 139.2,165.5 139.7,165.1 140.0,164.9 141.0,164.2 142.0,163.6 143.0,162.9 144.0,162.2 145.0,161.6 146.0,160.9 147.0,160.3 148.0,159.6 149.0,159.0 150.0,158.4 151.0,157.8 152.0,157.2 153.0,156.6 154.0,156.0 155.0,155.4 156.0,154.8 157.0,154.2 158.0,153.7 159.0,153.1 160.0,152.5 161.0,152.0 162.0,151.4 163.0,150.9 164.0,150.4 165.0,149.8 166.0,149.3 167.0,148.8 168.0,148.3 169.0,147.8 170.0,147.3 171.0,146.8 172.0,146.3 173.0,145.8 174.0,145.3 175.0,144.8 176.0,144.4 177.0,143.9 178.0,143.4 179.0,143.0 180.0,142.5 181.0,142.1 182.0,141.6 183.0,141.2 184.0,140.7 185.0,140.3 186.0,139.9 187.0,139.5 188.0,139.0 189.0,138.6 190.0,138.2 191.0,137.8 192.0,137.4 193.0,137.0 194.0,136.6 195.0,136.2 196.0,135.8 197.0,135.4 198.0,135.0 199.0,134.6 200.0,134.2 201.0,133.9 202.0,133.5 203.0,133.1 204.0,132.7 205.0,132.4 206.0,132.0 207.0,131.6 208.0,131.3 209.0,130.9 210.0,130.6 211.0,130.2 212.0,129.9 213.0,129.5 214.0,129.2 215.0,128.8 216.0,128.5 217.0,128.2 218.0,127.8 219.0,127.5 220.0,127.2 221.0,126.8 222.0,126.5 223.0,126.2 224.0,125.9 225.0,125.6 226.0,125.2 227.0,124.9 228.0,124.6 229.0,124.3 230.0,124.0 231.0,123.7 232.0,123.4 233.0,123.1 234.0,122.8 235.0,122.5 236.0,122.2 237.0,121.9 238.0,121.6 239.0,121.3 240.0,121.0 241.0,120.7 242.0,120.4 243.0,120.1 244.0,119.8 245.0,119.5 246.0,119.3 247.0,119.0 248.0,118.7 249.0,118.4 250.0,118.1 251.0,117.9 252.0,117.6 253.0,117.3 254.0,117.0 255.0,116.8 256.0,116.5 257.0,116.2 258.0,116.0 259.0,115.7 260.0,115.4 261.0,115.2 262.0,114.9 263.0,114.6 264.0,114.4 265.0,114.1 266.0,113.8 267.0,113.6 268.0,113.3 269.0,113.1 270.0,112.8 271.0,112.6 272.0,112.3 273.0,112.1 274.0,111.8 275.0,111.6 276.0,111.3 277.0,111.1 278.0,110.8 279.0,110.6 280.0,110.3 281.0,110.1 282.0,109.8 283.0,109.6 284.0,109.4 285.0,109.1 286.0,108.9 287.0,108.6 288.0,108.4 289.0,108.2 290.0,107.9 291.0,107.7 292.0,107.5 293.0,107.2 294.0,107.0 295.0,106.8 296.0,106.5 297.0,106.3 298.0,106.1 299.0,105.8 300.0,105.6 301.0,105.4 302.0,105.2 303.0,104.9 304.0,104.7 305.0,104.5 306.0,104.3 307.0,104.0 308.0,103.8 309.0,103.6 310.0,103.4 311.0,103.1 312.0,102.9 313.0,102.7 314.0,102.5 315.0,102.3 316.0,102.0 317.0,101.8 318.0,101.6 319.0,101.4 320.0,101.2 321.0,101.0 322.0,100.8 323.0,100.5 324.0,100.3 325.0,100.1 326.0,99.9 327.0,99.7 328.0,99.5 329.0,99.3 330.0,99.1 331.0,98.9 332.0,98.6 333.0,98.4 334.0,98.2 335.0,98.0 336.0,97.8 337.0,97.6 338.0,97.4 339.0,97.2 340.0,97.0 341.0,96.8 342.0,96.6 343.0,96.4 344.0,96.2 345.0,96.0 346.0,95.8 347.0,95.6 348.0,95.4 349.0,95.2 350.0,95.0 351.0,94.8 352.0,94.6 353.0,94.4 354.0,94.2 355.0,94.0 356.0,93.8 357.0,93.6 358.0,93.4 359.0,93.2 360.0,93.0 361.0,92.8 362.0,92.6 363.0,92.5 364.0,92.3 365.0,92.1 366.0,91.9 367.0,91.7 368.0,91.5 369.0,91.3 370.0,91.1 371.0,90.9 372.0,90.7 373.0,90.6 374.0,90.4 375.0,90.2 376.0,90.0 377.0,89.8 378.0,89.6 379.0,89.4 380.0,89.3 381.0,89.1 382.0,88.9 383.0,88.7 384.0,88.5 385.0,88.3 386.0,88.2 387.0,88.0 388.0,87.8 389.0,87.6 390.0,87.4 391.0,87.3 392.0,87.1 393.0,86.9 394.0,86.7 395.0,86.5 396.0,86.4 397.0,86.2 398.0,86.0 399.0,85.8 400.0,85.7 401.0,85.5 402.0,85.3 403.0,85.1 404.0,85.0 405.0,84.8 406.0,84.6 407.0,84.4 408.0,84.3 409.0,84.1 410.0,83.9 411.0,83.7 412.0,83.6 413.0,83.4 414.0,83.2 415.0,83.1 416.0,82.9 417.0,82.7 418.0,82.6 419.0,82.4 420.0,82.2 421.0,82.0 422.0,81.9 423.0,81.7 424.0,81.5 425.0,81.4 426.0,81.2 427.0,81.0 428.0,80.9 429.0,80.7 430.0,80.6 431.0,80.4 432.0,80.2 433.0,80.1 434.0,79.9 435.0,79.7 436.0,79.6 437.0,79.4 438.0,79.3 439.0,79.1 440.0,78.9 441.0,78.8 442.0,78.6 443.0,78.4 444.0,78.3 445.0,78.1 446.0,78.0 447.0,77.8 448.0,77.7 449.0,77.5 450.0,77.3 451.0,77.2 452.0,77.0 453.0,76.9 454.0,76.7 455.0,76.6 456.0,76.4 457.0,76.2 458.0,76.1 459.0,75.9 460.0,75.8 461.0,75.6 462.0,75.5 463.0,75.3 464.0,75.2 465.0,75.0 466.0,74.9 467.0,74.7 468.0,74.6 469.0,74.4 470.0,74.3 471.0,74.1 472.0,74.0 473.0,73.8 474.0,73.7 475.0,73.5 476.0,73.4 477.0,73.2 478.0,73.1 479.0,72.9 480.0,72.8 481.0,72.6 482.0,72.5 483.0,72.3 484.0,72.2 485.0,72.0 486.0,71.9 487.0,71.8 488.0,71.6 489.0,71.5 489.6,71.4"/>
<polyline stroke="#7b2e00" points="51.2,271.8 51.7,271.4 52.2,270.9 52.7,270.4 53.2,269.8 53.7,269.1 54.2,268.3 54.7,267.5 55.2,266.8 55.7,265.9 56.2,265.1 56.7,264.3 57.2,263.5 57.7,262.6 58.2,261.8 58.7,261.0 59.2,260.2 59.7,259.3 60.2,258.5 60.7,257.8 61.2,257.0 61.7,256.2 62.2,255.4 62.7,254.6 63.2,253.9 63.7,253.1 64.2,252.4 64.7,251.6 65.2,250.9 65.7,250.2 66.2,249.4 66.7,248.7 67.2,248.0 67.7,247.3 68.2,246.6 68.7,245.9 69.2,245.2 69.7,244.5 70.2,243.8 70.7,243.1 71.2,242.4 71.7,241.7 72.2,241.0 72.7,240.3 73.2,239.6 73.7,238.9 74.2,238.2 74.7,237.5 75.2,236.9 75.7,236.2 76.2,235.5 76.7,234.8 77.2,234.1 77.7,233.5 78.2,232.8 78.7,232.1 79.2,231.5 79.7,230.8 80.2,230.2 80.7,229.5 81.2,228.8 81.7,228.2 82.2,227.5 82.7,226.9 83.2,226.2 83.7,225.6 84.2,225.0 84.7,224.3 85.2,223.7 85.7,223.1 86.2,222.4 86.7,221.8 87.2,221.2 87.7,220.6 88.2,219.9 88.7,219.3 89.2,218.7 89.7,218.1 90.2,217.5 90.7,216.9 91.2,216.3 91.7,215.7 92.2,215.1 92.7,214.5 93.2,214.0 93.7,213.4 94.2,212.8 94.7,212.2 95.2,211.7 95.7,211.1 96.2,210.5 96.7,210.0 97.2,209.4 97.7,208.8 98.2,208.3 98.7,207.8 99.2,207.2 99.7,206.7 100.2,206.1 100.7,205.6 101.2,205.1 101.7,204.5 102.2,204.0 102.7,203.5 103.2,203.0 103.7,202.5 104.2,202.0 104.7,201.4 105.2,200.9 105.7,200.4 106.2,199.9 106.7,199.5 107.2,199.0 107.7,198.5 108.2,198.0 108.7,197.5 109.2,197.0 109.7,196.6 110.2,196.1 110.7,195.6 111.2,195.2 111.7,194.7 112.2,194.2 112.7,193.8 113.2,193.3 113.7,192.9 114.2,192.4 114.7,192.0 115.2,191.5 115.7,191.1 116.2,190.7 116.7,190.2 117.2,189.8 117.7,189.4 118.2,189.0 118.7,188.5 119.2,188.1 119.7,187.7 120.2,187.3 120.7,186.9 121.2,186.5 121.7,186.1 122.2,185.7 122.7,185.3 123.2,184.9 123.7,184.5 124.2,184.1 124.7,183.7 125.2,183.3 125.7,182.9 126.2,182.6 126.7,182.2 127.2,181.8 127.7,181.4 128.2,181.1 128.7,180.7 129.2,180.3 129.7,180.0 130.2,179.6 130.7,179.2 131.2,178.9 131.7,178.5 132.2,178.2 132.7,177.8 133.2,177.5 133.7,177.1 134.2,176.8 134.7,176.4 135.2,176.1 135.7,175.8 136.2,175.4 136.7,175.1 137.2,174.8 137.7,174.4 138.2,174.1 138.7,173.8 139.2,173.5 139.7,173.1 140.0,172.9 141.0,172.3 142.0,171.7 143.0,171.1 144.0,170.4 145.0,169.8 146.0,169.2 147.0,168.6 148.0,168.0 149.0,167.5 150.0,166.9 151.0,166.3 152.0,165.8 153.0,165.2 154.0,164.7 155.0,164.1 156.0,163.6 157.0,163.0 158.0,162.5 159.0,162.0 160.0,161.5 161.0,160.9 162.0,160.4 163.0,159.9 164.0,159.4 165.0,158.9 166.0,158.4 167.0,158.0 168.0,157.5 169.0,157.0 170.0,156.5 171.0,156.0 172.0,155.6 173.0,155.1 174.0,154.7 175.0,154.2 176.0,153.8 177.0,153.3 178.0,152.9 179.0,152.4 180.0,152.0 181.0,151.6 182.0,151.1 183.0,150.7 184.0,150.3 185.0,149.8 186.0,149.4 187.0,149.0 188.0,148.6 189.0,148.2 190.0,147.8 191.0,147.4 192.0,147.0 193.0,146.6 194.0,146.2 195.0,145.8 196.0,145.4 197.0,145.0 198.0,144.6 199.0,144.2 200.0,143.9 201.0,143.5 202.0,143.1 203.0,142.7 204.0,142.4 205.0,142.0 206.0,141.6 207.0,141.3 208.0,140.9 209.0,140.5 210.0,140.2 211.0,139.8 212.0,139.5 213.0,139.1 214.0,138.8 215.0,138.4 216.0,138.1 217.0,137.7 218.0,137.4 219.0,137.0 220.0,136.7 221.0,136.4 222.0,136.0 223.0,135.7 224.0,135.4 225.0,135.0 226.0,134.7 227.0,134.4 228.0,134.0 229.0,133.7 230.0,133.4 231.0,133.1 232.0,132.7 233.0,132.4 234.0,132.1 235.0,131.8 236.0,131.5 237.0,131.2 238.0,130.8 239.0,130.5 240.0,130.2 241.0,129.9 242.0,129.6 243.0,129.3 244.0,129.0 245.0,128.7 246.0,128.4 247.0,128.1 248.0,127.8 249.0,127.5 250.0,127.2 251.0,126.9 252.0,126.6 253.0,126.3 254.0,126.0 255.0,125.7 256.0,125.5 257.0,125.2 258.0,124.9 259.0,124.6 260.0,124.3 261.0,124.0 262.0,123.7 263.0,123.5 264.0,123.2 265.0,122.9 266.0,122.6 267.0,122.3 268.0,122.1 269.0,121.8 270.0,121.5 271.0,121.2 272.0,121.0 273.0,120.7 274.0,120.4 275.0,120.2 276.0,119.9 277.0,119.6 278.0,119.4 279.0,119.1 280.0,118.8 281.0,118.6 282.0,118.3 283.0,118.1 284.0,117.8 285.0,117.5 286.0,117.3 287.0,117.0 288.0,116.8 289.0,116.5 290.0,116.2 291.0,116.0 292.0,115.7 293.0,115.5 294.0,115.2 295.0,115.0 296.0,114.7 297.0,114.5 298.0,114.2 299.0,114.0 300.0,113.8 301.0,113.5 302.0,113.3 303.0,113.0 304.0,112.8 305.0,112.5 306.0,112.3 307.0,112.1 308.0,111.8 309.0,111.6 310.0,111.3 311.0,111.1 312.0,110.9 313.0,110.6 314.0,110.4 315.0,110.2 316.0,109.9 317.0,109.7 318.0,109.5 319.0,109.2 320.0,109.0 321.0,108.8 322.0,108.6 323.0,108.3 324.0,108.1 325.0,107.9 326.0,107.6 327.0,107.4 328.0,107.2 329.0,107.0 330.0,106.8 331.0,106.5 332.0,106.3 333.0,106.1 334.0,105.9 335.0,105.7 336.0,105.4 337.0,105.2 338.0,105.0 339.0,104.8 340.0,104.6 341.0,104.4 342.0,104.1 343.0,103.9 344.0,103.7 345.0,103.5 346.0,103.3 347.0,103.1 348.0,102.9 349.0,102.7 350.0,102.5 351.0,102.2 352.0,102.0 353.0,101.8 354.0,101.6 355.0,101.4 356.0,101.2 357.0,101.0 358.0,100.8 359.0,100.6 360.0,100.4 361.0,100.2 362.0,100.0 363.0,99.8 364.0,99.6 365.0,99.4 366.0,99.2 367.0,99.0 368.0,98.8 369.0,98.6 370.0,98.4 371.0,98.2 372.0,98.0 373.0,97.8 374.0,97.7 375.0,97.5 376.0,97.3 377.0,97.1 378.0,96.9 379.0,96.7 380.0,96.5 381.0,96.3 382.0,96.1 383.0,95.9 384.0,95.8 385.0,95.6 386.0,95.4 387.0,95.2 388.0,95.0 389.0,94.8 390.0,94.6 391.0,94.5 392.0,94.3 393.0,94.1 394.0,93.9 395.0,93.7 396.0,93.6 397.0,93.4 398.0,93.2 399.0,93.0 400.0,92.8 401.0,92.7 402.0,92.5 403.0,92.3 404.0,92.1 405.0,92.0 406.0,91.8 407.0,91.6 408.0,91.4 409.0,91.3 410.0,91.1 411.0,90.9 412.0,90.8 413.0,90.6 414.0,90.4 415.0,90.2 416.0,90.1 417.0,89.9 418.0,89.7 419.0,89.6 420.0,89.4 421.0,89.2 422.0,89.1 423.0,88.9 424.0,88.7 425.0,88.6 426.0,88.4 427.0,88.2 428.0,88.1 429.0,87.9 430.0,87.8 431.0,87.6 432.0,87.4 433.0,87.3 434.0,87.1 435.0,87.0 436.0,86.8 437.0,86.6 438.0,86.5 439.0,86.3 440.0,86.2 441.0,86.0 442.0,85.8 443.0,85.7 444.0,85.5 445.0,85.4 446.0,85.2 447.0,85.1 448.0,84.9 449.0,84.8 450.0,84.6 451.0,84.5 452.0,84.3 453.0,84.2 454.0,84.0 455.0,83.9 456.0,83.7 457.0,83.6 458.0,83.4 459.0,83.3 460.0,83.1 461.0,83.0 462.0,82.8 463.0,82.7 464.0,82.5 465.0,82.4 466.0,82.2 467.0,82.1 468.0,81.9 469.0,81.8 470.0,81.7 471.0,81.5 472.0,81.4 473.0,81.2 474.0,81.1 475.0,80.9 476.0,80.8 477.0,80.7 478.0,80.5 479.0,80.4 480.0,80.2 481.0,80.1 482.0,80.0 483.0,79.8 484.0,79.7 485.0,79.6 486.0,79.4 487.0,79.3 488.0,79.2 489.0,79.0 489.6,78.9"/>
<polyline stroke="#f89894" points="51.2,271.8 51.7,271.4 52.2,271.0 52.7,270.4 53.2,269.8 53.7,269.2 54.2,268.4 54.7,267.7 55.2,266.9 55.7,266.2 56.2,265.4 56.7,264.6 57.2,263.8 57.7,263.0 58.2,262.2 58.7,261.5 59.2,260.7 59.7,259.9 60.2,259.2 60.7,258.4 61.2,257.7 61.7,257.0 62.2,256.3 62.7,255.5 63.2,254.8 63.7,254.1 64.2,253.5 64.7,252.8 65.2,252.1 65.7,251.4 66.2,250.7 66.7,250.1 67.2,249.4 67.7,248.7 68.2,248.1 68.7,247.4 69.2,246.8 69.7,246.1 70.2,245.5 70.7,244.8 71.2,244.2 71.7,243.6 72.2,242.9 72.7,242.3 73.2,241.6 73.7,241.0 74.2,240.4 74.7,239.7 75.2,239.1 75.7,238.5 76.2,237.8 76.7,237.2 77.2,236.6 77.7,236.0 78.2,235.3 78.7,234.7 79.2,234.1 79.7,233.5 80.2,232.9 80.7,232.3 81.2,231.6 81.7,231.0 82.2,230.4 82.7,229.8 83.2,229.2 83.7,228.6 84.2,228.0 84.7,227.4 85.2,226.8 85.7,226.2 86.2,225.6 86.7,225.0 87.2,224.4 87.7,223.9 88.2,223.3 88.7,222.7 89.2,222.1 89.7,221.5 90.2,221.0 90.7,220.4 91.2,219.8 91.7,219.2 92.2,218.7 92.7,218.1 93.2,217.6 93.7,217.0 94.2,216.4 94.7,215.9 95.2,215.3 95.7,214.8 96.2,214.3 96.7,213.7 97.2,213.2 97.7,212.6 98.2,212.1 98.7,211.6 99.2,211.0 99.7,210.5 100.2,210.0 100.7,209.5 101.2,209.0 101.7,208.5 102.2,207.9 102.7,207.4 103.2,206.9 103.7,206.4 104.2,205.9 104.7,205.4 105.2,204.9 105.7,204.4 106.2,204.0 106.7,203.5 107.2,203.0 107.7,202.5 108.2,202.0 108.7,201.6 109.2,201.1 109.7,200.6 110.2,200.2 110.7,199.7 111.2,199.2 111.7,198.8 112.2,198.3 112.7,197.9 113.2,197.4 113.7,197.0 114.2,196.5 114.7,196.1 115.2,195.6 115.7,195.2 116.2,194.8 116.7,194.3 117.2,193.9 117.7,193.5 118.2,193.1 118.7,192.6 119.2,192.2 119.7,191.8 120.2,191.4 120.7,191.0 121.2,190.6 121.7,190.2 122.2,189.7 122.7,189.3 123.2,188.9 123.7,188.5 124.2,188.2 124.7,187.8 125.2,187.4 125.7,187.0 126.2,186.6 126.7,186.2 127.2,185.8 127.7,185.5 128.2,185.1 128.7,184.7 129.2,184.3 129.7,184.0 130.2,183.6 130.7,183.2 131.2,182.9 131.7,182.5 132.2,182.1 132.7,181.8 133.2,181.4 133.7,181.1 134.2,180.7 134.7,180.4 135.2,180.0 135.7,179.7 136.2,179.3 136.7,179.0 137.2,178.6 137.7,178.3 138.2,178.0 138.7,177.6 139.2,177.3 139.7,177.0 140.0,176.8 141.0,176.1 142.0,175.5 143.0,174.8 144.0,174.2 145.0,173.6 146.0,172.9 147.0,172.3 148.0,171.7 149.0,171.1 150.0,170.5 151.0,169.9 152.0,169.4 153.0,168.8 154.0,168.2 155.0,167.6 156.0,167.1 157.0,166.5 158.0,166.0 159.0,165.4 160.0,164.9 161.0,164.4 162.0,163.8 163.0,163.3 164.0,162.8 165.0,162.3 166.0,161.8 167.0,161.2 168.0,160.7 169.0,160.2 170.0,159.8 171.0,159.3 172.0,158.8 173.0,158.3 174.0,157.8 175.0,157.3 176.0,156.9 177.0,156.4 178.0,156.0 179.0,155.5 180.0,155.0 181.0,154.6 182.0,154.1 183.0,153.7 184.0,153.3 185.0,152.8 186.0,152.4 187.0,151.9 188.0,151.5 189.0,151.1 190.0,150.7 191.0,150.3 192.0,149.8 193.0,149.4 194.0,149.0 195.0,148.6 196.0,148.2 197.0,147.8 198.0,147.4 199.0,147.0 200.0,146.6 201.0,146.2 202.0,145.8 203.0,145.4 204.0,145.1 205.0,144.7 206.0,144.3 207.0,143.9 208.0,143.5 209.0,143.2 210.0,142.8 211.0,142.4 212.0,142.1 213.0,141.7 214.0,141.3 215.0,141.0 216.0,140.6 217.0,140.2 218.0,139.9 219.0,139.5 220.0,139.2 221.0,138.8 222.0,138.5 223.0,138.1 224.0,137.8 225.0,137.5 226.0,137.1 227.0,136.8 228.0,136.4 229.0,136.1 230.0,135.8 231.0,135.4 232.0,135.1 233.0,134.8 234.0,134.5 235.0,134.1 236.0,133.8 237.0,133.5 238.0,133.2 239.0,132.8 240.0,132.5 241.0,132.2 242.0,131.9 243.0,131.6 244.0,131.3 245.0,131.0 246.0,130.6 247.0,130.3 248.0,130.0 249.0,129.7 250.0,129.4 251.0,129.1 252.0,128.8 253.0,128.5 254.0,128.2 255.0,127.9 256.0,127.6 257.0,127.3 258.0,127.0 259.0,126.7 260.0,126.4 261.0,126.2 262.0,125.9 263.0,125.6 264.0,125.3 265.0,125.0 266.0,124.7 267.0,124.4 268.0,124.2 269.0,123.9 270.0,123.6 271.0,123.3 272.0,123.0 273.0,122.8 274.0,122.5 275.0,122.2 276.0,121.9 277.0,121.7 278.0,121.4 279.0,121.1 280.0,120.8 281.0,120.6 282.0,120.3 283.0,120.0 284.0,119.8 285.0,119.5 286.0,119.2 287.0,119.0 288.0,118.7 289.0,118.5 290.0,118.2 291.0,117.9 292.0,117.7 293.0,117.4 294.0,117.2 295.0,116.9 296.0,116.6 297.0,116.4 298.0,116.1 299.0,115.9 300.0,115.6 301.0,115.4 302.0,115.1 303.0,114.9 304.0,114.6 305.0,114.4 306.0,114.1 307.0,113.9 308.0,113.6 309.0,113.4 310.0,113.2 311.0,112.9 312.0,112.7 313.0,112.4 314.0,112.2 315.0,112.0 316.0,111.7 317.0,111.5 318.0,111.2 319.0,111.0 320.0,110.8 321.0,110.5 322.0,110.3 323.0,110.1 324.0,109.8 325.0,109.6 326.0,109.4 327.0,109.1 328.0,108.9 329.0,108.7 330.0,108.5 331.0,108.2 332.0,108.0 333.0,107.8 334.0,107.5 335.0,107.3 336.0,107.1 337.0,106.9 338.0,106.7 339.0,106.4 340.0,106.2 341.0,106.0 342.0,105.8 343.0,105.5 344.0,105.3 345.0,105.1 346.0,104.9 347.0,104.7 348.0,104.5 349.0,104.2 350.0,104.0 351.0,103.8 352.0,103.6 353.0,103.4 354.0,103.2 355.0,103.0 356.0,102.8 357.0,102.5 358.0,102.3 359.0,102.1 360.0,101.9 361.0,101.7 362.0,101.5 363.0,101.3 364.0,101.1 365.0,100.9 366.0,100.7 367.0,100.5 368.0,100.3 369.0,100.1 370.0,99.9 371.0,99.7 372.0,99.5 373.0,99.3 374.0,99.1 375.0,98.9 376.0,98.7 377.0,98.5 378.0,98.3 379.0,98.1 380.0,97.9 381.0,97.7 382.0,97.5 383.0,97.3 384.0,97.1 385.0,96.9 386.0,96.7 387.0,96.5 388.0,96.3 389.0,96.2 390.0,96.0 391.0,95.8 392.0,95.6 393.0,95.4 394.0,95.2 395.0,95.0 396.0,94.8 397.0,94.6 398.0,94.5 399.0,94.3 400.0,94.1 401.0,93.9 402.0,93.7 403.0,93.5 404.0,93.4 405.0,93.2 406.0,93.0 407.0,92.8 408.0,92.6 409.0,92.5 410.0,92.3 411.0,92.1 412.0,91.9 413.0,91.7 414.0,91.6 415.0,91.4 416.0,91.2 417.0,91.0 418.0,90.9 419.0,90.7 420.0,90.5 421.0,90.3 422.0,90.2 423.0,90.0 424.0,89.8 425.0,89.6 426.0,89.5 427.0,89.3 428.0,89.1 429.0,89.0 430.0,88.8 431.0,88.6 432.0,88.5 433.0,88.3 434.0,88.1 435.0,88.0 436.0,87.8 437.0,87.6 438.0,87.5 439.0,87.3 440.0,87.1 441.0,87.0 442.0,86.8 443.0,86.6 444.0,86.5 445.0,86.3 446.0,86.2 447.0,86.0 448.0,85.8 449.0,85.7 450.0,85.5 451.0,85.4 452.0,85.2 453.0,85.0 454.0,84.9 455.0,84.7 456.0,84.6 457.0,84.4 458.0,84.3 459.0,84.1 460.0,83.9 461.0,83.8 462.0,83.6 463.0,83.5 464.0,83.3 465.0,83.2 466.0,83.0 467.0,82.9 468.0,82.7 469.0,82.6 470.0,82.4 471.0,82.3 472.0,82.1 473.0,82.0 474.0,81.8 475.0,81.7 476.0,81.5 477.0,81.4 478.0,81.2 479.0,81.1 480.0,80.9 481.0,80.8 482.0,80.6 483.0,80.5 484.0,80.4 485.0,80.2 486.0,80.1 487.0,79.9 488.0,79.8 489.0,79.6 489.6,79.6"/>
<polyline stroke="#a7a9ac" points="51.2,271.8 51.7,271.2 52.2,270.7 52.7,270.0 53.2,269.3 53.7,268.6 54.2,267.8 54.7,267.1 55.2,266.3 55.7,265.5 56.2,264.7 56.7,263.8 57.2,263.0 57.7,262.2 58.2,261.4 58.7,260.5 59.2,259.7 59.7,258.9 60.2,258.1 60.7,257.2 61.2,256.4 61.7,255.6 62.2,254.8 62.7,254.0 63.2,253.2 63.7,252.4 64.2,251.6 64.7,250.8 65.2,250.0 65.7,249.2 66.2,248.5 66.7,247.7 67.2,246.9 67.7,246.1 68.2,245.4 68.7,244.6 69.2,243.9 69.7,243.1 70.2,242.3 70.7,241.6 71.2,240.8 71.7,240.1 72.2,239.4 72.7,238.6 73.2,237.9 73.7,237.2 74.2,236.4 74.7,235.7 75.2,235.0 75.7,234.3 76.2,233.5 76.7,232.8 77.2,232.1 77.7,231.4 78.2,230.7 78.7,230.0 79.2,229.3 79.7,228.6 80.2,228.0 80.7,227.3 81.2,226.6 81.7,225.9 82.2,225.2 82.7,224.6 83.2,223.9 83.7,223.3 84.2,222.6 84.7,221.9 85.2,221.3 85.7,220.6 86.2,220.0 86.7,219.4 87.2,218.7 87.7,218.1 88.2,217.5 88.7,216.9 89.2,216.2 89.7,215.6 90.2,215.0 90.7,214.4 91.2,213.8 91.7,213.2 92.2,212.6 92.7,212.0 93.2,211.4 93.7,210.8 94.2,210.3 94.7,209.7 95.2,209.1 95.7,208.5 96.2,208.0 96.7,207.4 97.2,206.8 97.7,206.3 98.2,205.7 98.7,205.2 99.2,204.6 99.7,204.1 100.2,203.6 100.7,203.0 101.2,202.5 101.7,202.0 102.2,201.4 102.7,200.9 103.2,200.4 103.7,199.9 104.2,199.4 104.7,198.9 105.2,198.4 105.7,197.9 106.2,197.4 106.7,196.9 107.2,196.4 107.7,195.9 108.2,195.4 108.7,194.9 109.2,194.4 109.7,194.0 110.2,193.5 110.7,193.0 111.2,192.6 111.7,192.1 112.2,191.6 112.7,191.2 113.2,190.7 113.7,190.3 114.2,189.8 114.7,189.4 115.2,188.9 115.7,188.5 116.2,188.0 116.7,187.6 117.2,187.2 117.7,186.7 118.2,186.3 118.7,185.9 119.2,185.5 119.7,185.0 120.2,184.6 120.7,184.2 121.2,183.8 121.7,183.4 122.2,183.0 122.7,182.6 123.2,182.2 123.7,181.8 124.2,181.4 124.7,181.0 125.2,180.6 125.7,180.2 126.2,179.8 126.7,179.4 127.2,179.0 127.7,178.6 128.2,178.2 128.7,177.9 129.2,177.5 129.7,177.1 130.2,176.7 130.7,176.4 131.2,176.0 131.7,175.6 132.2,175.3 132.7,174.9 133.2,174.5 133.7,174.2 134.2,173.8 134.7,173.5 135.2,173.1 135.7,172.7 136.2,172.4 136.7,172.0 137.2,171.7 137.7,171.4 138.2,171.0 138.7,170.7 139.2,170.3 139.7,170.0 140.0,169.8 141.0,169.1 142.0,168.4 143.0,167.8 144.0,167.1 145.0,166.5 146.0,165.8 147.0,165.2 148.0,164.6 149.0,163.9 150.0,163.3 151.0,162.7 152.0,162.1 153.0,161.5 154.0,160.9 155.0,160.3 156.0,159.7 157.0,159.1 158.0,158.6 159.0,158.0 160.0,157.4 161.0,156.8 162.0,156.3 163.0,155.7 164.0,155.2 165.0,154.6 166.0,154.1 167.0,153.5 168.0,153.0 169.0,152.5 170.0,151.9 171.0,151.4 172.0,150.9 173.0,150.4 174.0,149.9 175.0,149.3 176.0,148.8 177.0,148.3 178.0,147.8 179.0,147.3 180.0,146.8 181.0,146.3 182.0,145.9 183.0,145.4 184.0,144.9 185.0,144.4 186.0,143.9 187.0,143.5 188.0,143.0 189.0,142.5 190.0,142.1 191.0,141.6 192.0,141.1 193.0,140.7 194.0,140.2 195.0,139.8 196.0,139.3 197.0,138.9 198.0,138.5 199.0,138.0 200.0,137.6 201.0,137.1 202.0,136.7 203.0,136.3 204.0,135.9 205.0,135.4 206.0,135.0 207.0,134.6 208.0,134.2 209.0,133.8 210.0,133.3 211.0,132.9 212.0,132.5 213.0,132.1 214.0,131.7 215.0,131.3 216.0,130.9 217.0,130.5 218.0,130.1 219.0,129.7 220.0,129.3 221.0,128.9 222.0,128.6 223.0,128.2 224.0,127.8 225.0,127.4 226.0,127.0 227.0,126.6 228.0,126.3 229.0,125.9 230.0,125.5 231.0,125.2 232.0,124.8 233.0,124.4 234.0,124.1 235.0,123.7 236.0,123.3 237.0,123.0 238.0,122.6 239.0,122.3 240.0,121.9 241.0,121.6 242.0,121.2 243.0,120.9 244.0,120.5 245.0,120.2 246.0,119.8 247.0,119.5 248.0,119.1 249.0,118.8 250.0,118.5 251.0,118.1 252.0,117.8 253.0,117.5 254.0,117.1 255.0,116.8 256.0,116.5 257.0,116.2 258.0,115.8 259.0,115.5 260.0,115.2 261.0,114.9 262.0,114.5 263.0,114.2 264.0,113.9 265.0,113.6 266.0,113.3 267.0,113.0 268.0,112.7 269.0,112.4 270.0,112.1 271.0,111.7 272.0,111.4 273.0,111.1 274.0,110.8 275.0,110.5 276.0,110.2 277.0,109.9 278.0,109.7 279.0,109.4 280.0,109.1 281.0,108.8 282.0,108.5 283.0,108.2 284.0,107.9 285.0,107.6 286.0,107.3 287.0,107.0 288.0,106.8 289.0,106.5 290.0,106.2 291.0,105.9 292.0,105.6 293.0,105.4 294.0,105.1 295.0,104.8 296.0,104.5 297.0,104.3 298.0,104.0 299.0,103.7 300.0,103.5 301.0,103.2 302.0,102.9 303.0,102.7 304.0,102.4 305.0,102.1 306.0,101.9 307.0,101.6 308.0,101.4 309.0,101.1 310.0,100.8 311.0,100.6 312.0,100.3 313.0,100.1 314.0,99.8 315.0,99.6 316.0,99.3 317.0,99.1 318.0,98.8 319.0,98.6 320.0,98.3 321.0,98.1 322.0,97.8 323.0,97.6 324.0,97.4 325.0,97.1 326.0,96.9 327.0,96.6 328.0,96.4 329.0,96.2 330.0,95.9 331.0,95.7 332.0,95.5 333.0,95.2 334.0,95.0 335.0,94.8 336.0,94.5 337.0,94.3 338.0,94.1 339.0,93.8 340.0,93.6 341.0,93.4 342.0,93.2 343.0,92.9 344.0,92.7 345.0,92.5 346.0,92.3 347.0,92.0 348.0,91.8 349.0,91.6 350.0,91.4 351.0,91.2 352.0,91.0 353.0,90.7 354.0,90.5 355.0,90.3 356.0,90.1 357.0,89.9 358.0,89.7 359.0,89.5 360.0,89.3 361.0,89.0 362.0,88.8 363.0,88.6 364.0,88.4 365.0,88.2 366.0,88.0 367.0,87.8 368.0,87.6 369.0,87.4 370.0,87.2 371.0,87.0 372.0,86.8 373.0,86.6 374.0,86.4 375.0,86.2 376.0,86.0 377.0,85.8 378.0,85.6 379.0,85.4 380.0,85.2 381.0,85.0 382.0,84.8 383.0,84.6 384.0,84.5 385.0,84.3 386.0,84.1 387.0,83.9 388.0,83.7 389.0,83.5 390.0,83.3 391.0,83.1 392.0,82.9 393.0,82.8 394.0,82.6 395.0,82.4 396.0,82.2 397.0,82.0 398.0,81.8 399.0,81.7 400.0,81.5 401.0,81.3 402.0,81.1 403.0,80.9 404.0,80.8 405.0,80.6 406.0,80.4 407.0,80.2 408.0,80.1 409.0,79.9 410.0,79.7 411.0,79.5 412.0,79.4 413.0,79.2 414.0,79.0 415.0,78.8 416.0,78.7 417.0,78.5 418.0,78.3 419.0,78.2 420.0,78.0 421.0,77.8 422.0,77.7 423.0,77.5 424.0,77.3 425.0,77.2 426.0,77.0 427.0,76.8 428.0,76.7 429.0,76.5 430.0,76.3 431.0,76.2 432.0,76.0 433.0,75.8 434.0,75.7 435.0,75.5 436.0,75.4 437.0,75.2 438.0,75.0 439.0,74.9 440.0,74.7 441.0,74.6 442.0,74.4 443.0,74.3 444.0,74.1 445.0,73.9 446.0,73.8 447.0,73.6 448.0,73.5 449.0,73.3 450.0,73.2 451.0,73.0 452.0,72.9 453.0,72.7 454.0,72.6 455.0,72.4 456.0,72.3 457.0,72.1 458.0,72.0 459.0,71.8 460.0,71.7 461.0,71.5 462.0,71.4 463.0,71.2 464.0,71.1 465.0,70.9 466.0,70.8 467.0,70.7 468.0,70.5 469.0,70.4 470.0,70.2 471.0,70.1 472.0,69.9 473.0,69.8 474.0,69.6 475.0,69.5 476.0,69.4 477.0,69.2 478.0,69.1 479.0,68.9 480.0,68.8 481.0,68.7 482.0,68.5 483.0,68.4 484.0,68.2 485.0,68.1 486.0,68.0 487.0,67.8 488.0,67.7 489.0,67.6 489.6,67.5"/>
<polyline stroke="#00a651" points="51.2,271.8 51.7,271.1 52.2,270.4 52.7,269.6 53.2,268.9 53.7,268.0 54.2,267.2 54.7,266.3 55.2,265.4 55.7,264.5 56.2,263.5 56.7,262.6 57.2,261.6 57.7,260.6 58.2,259.6 58.7,258.7 59.2,257.7 59.7,256.7 60.2,255.7 60.7,254.7 61.2,253.7 61.7,252.8 62.2,251.8 62.7,250.8 63.2,249.9 63.7,248.9 64.2,248.0 64.7,247.0 65.2,246.1 65.7,245.2 66.2,244.2 66.7,243.3 67.2,242.4 67.7,241.5 68.2,240.6 68.7,239.8 69.2,238.9 69.7,238.0 70.2,237.2 70.7,236.3 71.2,235.5 71.7,234.7 72.2,233.8 72.7,233.0 73.2,232.2 73.7,231.4 74.2,230.6 74.7,229.9 75.2,229.1 75.7,228.3 76.2,227.5 76.7,226.8 77.2,226.0 77.7,225.3 78.2,224.5 78.7,223.8 79.2,223.1 79.7,222.4 80.2,221.6 80.7,220.9 81.2,220.2 81.7,219.5 82.2,218.8 82.7,218.2 83.2,217.5 83.7,216.8 84.2,216.1 84.7,215.4 85.2,214.8 85.7,214.1 86.2,213.5 86.7,212.8 87.2,212.2 87.7,211.5 88.2,210.9 88.7,210.3 89.2,209.6 89.7,209.0 90.2,208.4 90.7,207.8 91.2,207.1 91.7,206.5 92.2,205.9 92.7,205.3 93.2,204.7 93.7,204.1 94.2,203.5 94.7,202.9 95.2,202.4 95.7,201.8 96.2,201.2 96.7,200.6 97.2,200.0 97.7,199.5 98.2,198.9 98.7,198.3 99.2,197.8 99.7,197.2 100.2,196.7 100.7,196.1 101.2,195.6 101.7,195.0 102.2,194.5 102.7,193.9 103.2,193.4 103.7,192.9 104.2,192.3 104.7,191.8 105.2,191.3 105.7,190.8 106.2,190.2 106.7,189.7 107.2,189.2 107.7,188.7 108.2,188.2 108.7,187.7 109.2,187.2 109.7,186.7 110.2,186.2 110.7,185.7 111.2,185.2 111.7,184.7 112.2,184.2 112.7,183.7 113.2,183.2 113.7,182.7 114.2,182.3 114.7,181.8 115.2,181.3 115.7,180.8 116.2,180.4 116.7,179.9 117.2,179.4 117.7,179.0 118.2,178.5 118.7,178.0 119.2,177.6 119.7,177.1 120.2,176.7 120.7,176.2 121.2,175.8 121.7,175.3 122.2,174.9 122.7,174.5 123.2,174.0 123.7,173.6 124.2,173.1 124.7,172.7 125.2,172.3 125.7,171.9 126.2,171.4 126.7,171.0 127.2,170.6 127.7,170.2 128.2,169.7 128.7,169.3 129.2,168.9 129.7,168.5 130.2,168.1 130.7,167.7 131.2,167.3 131.7,166.9 132.2,166.5 132.7,166.1 133.2,165.7 133.7,165.3 134.2,164.9 134.7,164.5 135.2,164.1 135.7,163.7 136.2,163.3 136.7,162.9 137.2,162.6 137.7,162.2 138.2,161.8 138.7,161.4 139.2,161.0 139.7,160.7 140.0,160.4 141.0,159.7 142.0,159.0 143.0,158.2 144.0,157.5 145.0,156.8 146.0,156.1 147.0,155.4 148.0,154.7 149.0,154.0 150.0,153.3 151.0,152.7 152.0,152.0 153.0,151.3 154.0,150.7 155.0,150.0 156.0,149.4 157.0,148.7 158.0,148.1 159.0,147.4 160.0,146.8 161.0,146.2 162.0,145.6 163.0,145.0 164.0,144.4 165.0,143.8 166.0,143.2 167.0,142.6 168.0,142.0 169.0,141.4 170.0,140.8 171.0,140.3 172.0,139.7 173.0,139.1 174.0,138.6 175.0,138.0 176.0,137.5 177.0,136.9 178.0,136.4 179.0,135.8 180.0,135.3 181.0,134.8 182.0,134.2 183.0,133.7 184.0,133.2 185.0,132.7 186.0,132.2 187.0,131.6 188.0,131.1 189.0,130.6 190.0,130.1 191.0,129.6 192.0,129.2 193.0,128.7 194.0,128.2 195.0,127.7 196.0,127.2 197.0,126.7 198.0,126.3 199.0,125.8 200.0,125.3 201.0,124.9 202.0,124.4 203.0,124.0 204.0,123.5 205.0,123.0 206.0,122.6 207.0,122.2 208.0,121.7 209.0,121.3 210.0,120.8 211.0,120.4 212.0,120.0 213.0,119.5 214.0,119.1 215.0,118.7 216.0,118.3 217.0,117.8 218.0,117.4 219.0,117.0 220.0,116.6 221.0,116.2 222.0,115.8 223.0,115.4 224.0,115.0 225.0,114.6 226.0,114.2 227.0,113.8 228.0,113.4 229.0,113.0 230.0,112.6 231.0,112.2 232.0,111.8 233.0,111.4 234.0,111.0 235.0,110.6 236.0,110.3 237.0,109.9 238.0,109.5 239.0,109.1 240.0,108.8 241.0,108.4 242.0,108.0 243.0,107.7 244.0,107.3 245.0,106.9 246.0,106.6 247.0,106.2 248.0,105.9 249.0,105.5 250.0,105.1 251.0,104.8 252.0,104.4 253.0,104.1 254.0,103.7 255.0,103.4 256.0,103.1 257.0,102.7 258.0,102.4 259.0,102.0 260.0,101.7 261.0,101.4 262.0,101.0 263.0,100.7 264.0,100.4 265.0,100.0 266.0,99.7 267.0,99.4 268.0,99.0 269.0,98.7 270.0,98.4 271.0,98.1 272.0,97.8 273.0,97.4 274.0,97.1 275.0,96.8 276.0,96.5 277.0,96.2 278.0,95.9 279.0,95.6 280.0,95.2 281.0,94.9 282.0,94.6 283.0,94.3 284.0,94.0 285.0,93.7 286.0,93.4 287.0,93.1 288.0,92.8 289.0,92.5 290.0,92.2 291.0,91.9 292.0,91.6 293.0,91.3 294.0,91.1 295.0,90.8 296.0,90.5 297.0,90.2 298.0,89.9 299.0,89.6 300.0,89.3 301.0,89.0 302.0,88.8 303.0,88.5 304.0,88.2 305.0,87.9 306.0,87.6 307.0,87.4 308.0,87.1 309.0,86.8 310.0,86.5 311.0,86.3 312.0,86.0 313.0,85.7 314.0,85.5 315.0,85.2 316.0,84.9 317.0,84.7 318.0,84.4 319.0,84.1 320.0,83.9 321.0,83.6 322.0,83.3 323.0,83.1 324.0,82.8 325.0,82.6 326.0,82.3 327.0,82.1 328.0,81.8 329.0,81.5 330.0,81.3 331.0,81.0 332.0,80.8 333.0,80.5 334.0,80.3 335.0,80.0 336.0,79.8 337.0,79.5 338.0,79.3 339.0,79.1 340.0,78.8 341.0,78.6 342.0,78.3 343.0,78.1 344.0,77.8 345.0,77.6 346.0,77.4 347.0,77.1 348.0,76.9 349.0,76.7 350.0,76.4 351.0,76.2 352.0,76.0 353.0,75.7 354.0,75.5 355.0,75.3 356.0,75.0 357.0,74.8 358.0,74.6 359.0,74.4 360.0,74.1 361.0,73.9 362.0,73.7 363.0,73.5 364.0,73.2 365.0,73.0 366.0,72.8 367.0,72.6 368.0,72.3 369.0,72.1 370.0,71.9 371.0,71.7 372.0,71.5 373.0,71.3 374.0,71.0 375.0,70.8 376.0,70.6 377.0,70.4 378.0,70.2 379.0,70.0 380.0,69.8 381.0,69.6 382.0,69.4 383.0,69.1 384.0,68.9 385.0,68.7 386.0,68.5 387.0,68.3 388.0,68.1 389.0,67.9 390.0,67.7 391.0,67.5 392.0,67.3 393.0,67.1 394.0,66.9 395.0,66.7 396.0,66.5 397.0,66.3 398.0,66.1 399.0,65.9 400.0,65.7 401.0,65.5 402.0,65.3 403.0,65.1 404.0,65.0 405.0,64.8 406.0,64.6 407.0,64.4 408.0,64.2 409.0,64.0 410.0,63.8 411.0,63.6 412.0,63.4 413.0,63.3 414.0,63.1 415.0,62.9 416.0,62.7 417.0,62.5 418.0,62.3 419.0,62.1 420.0,62.0 421.0,61.8 422.0,61.6 423.0,61.4 424.0,61.2 425.0,61.1 426.0,60.9 427.0,60.7 428.0,60.5 429.0,60.4 430.0,60.2 431.0,60.0 432.0,59.8 433.0,59.7 434.0,59.5 435.0,59.3 436.0,59.1 437.0,59.0 438.0,58.8 439.0,58.6 440.0,58.5 441.0,58.3 442.0,58.1 443.0,58.0 444.0,57.8 445.0,57.6 446.0,57.5 447.0,57.3 448.0,57.1 449.0,57.0 450.0,56.8 451.0,56.6 452.0,56.5 453.0,56.3 454.0,56.2 455.0,56.0 456.0,55.8 457.0,55.7 458.0,55.5 459.0,55.4 460.0,55.2 461.0,55.0 462.0,54.9 463.0,54.7 464.0,54.6 465.0,54.4 466.0,54.3 467.0,54.1 468.0,54.0 469.0,53.8 470.0,53.6 471.0,53.5 472.0,53.3 473.0,53.2 474.0,53.0 475.0,52.9 476.0,52.7 477.0,52.6 478.0,52.5 479.0,52.3 480.0,52.2 481.0,52.0 482.0,51.9 483.0,51.7 484.0,51.6 485.0,51.4 486.0,51.3 487.0,51.1 488.0,51.0 489.0,50.9 489.6,50.8"/>
<polyline stroke="#0072bc" points="51.2,271.8 51.7,270.9 52.2,270.1 52.7,269.2 53.2,268.4 53.7,267.5 54.2,266.7 54.7,265.8 55.2,264.9 55.7,264.1 56.2,263.2 56.7,262.3 57.2,261.4 57.7,260.6 58.2,259.7 58.7,258.8 59.2,258.0 59.7,257.1 60.2,256.2 60.7,255.4 61.2,254.5 61.7,253.7 62.2,252.8 62.7,251.9 63.2,251.1 63.7,250.3 64.2,249.4 64.7,248.6 65.2,247.7 65.7,246.9 66.2,246.1 66.7,245.3 67.2,244.5 67.7,243.6 68.2,242.8 68.7,242.0 69.2,241.2 69.7,240.5 70.2,239.7 70.7,238.9 71.2,238.1 71.7,237.3 72.2,236.6 72.7,235.8 73.2,235.1 73.7,234.3 74.2,233.6 74.7,232.8 75.2,232.1 75.7,231.4 76.2,230.6 76.7,229.9 77.2,229.2 77.7,228.5 78.2,227.8 78.7,227.1 79.2,226.4 79.7,225.7 80.2,225.0 80.7,224.3 81.2,223.6 81.7,223.0 82.2,222.3 82.7,221.6 83.2,221.0 83.7,220.3 84.2,219.7 84.7,219.0 85.2,218.4 85.7,217.7 86.2,217.1 86.7,216.5 87.2,215.9 87.7,215.2 88.2,214.6 88.7,214.0 89.2,213.4 89.7,212.8 90.2,212.2 90.7,211.6 91.2,211.0 91.7,210.4 92.2,209.8 92.7,209.2 93.2,208.7 93.7,208.1 94.2,207.5 94.7,206.9 95.2,206.4 95.7,205.8 96.2,205.2 96.7,204.7 97.2,204.1 97.7,203.6 98.2,203.0 98.7,202.5 99.2,201.9 99.7,201.4 100.2,200.9 100.7,200.3 101.2,199.8 101.7,199.3 102.2,198.8 102.7,198.2 103.2,197.7 103.7,197.2 104.2,196.7 104.7,196.2 105.2,195.7 105.7,195.2 106.2,194.6 106.7,194.1 107.2,193.6 107.7,193.2 108.2,192.7 108.7,192.2 109.2,191.7 109.7,191.2 110.2,190.7 110.7,190.2 111.2,189.7 111.7,189.3 112.2,188.8 112.7,188.3 113.2,187.8 113.7,187.4 114.2,186.9 114.7,186.4 115.2,186.0 115.7,185.5 116.2,185.0 116.7,184.6 117.2,184.1 117.7,183.7 118.2,183.2 118.7,182.8 119.2,182.3 119.7,181.9 120.2,181.4 120.7,181.0 121.2,180.5 121.7,180.1 122.2,179.7 122.7,179.2 123.2,178.8 123.7,178.3 124.2,177.9 124.7,177.5 125.2,177.1 125.7,176.6 126.2,176.2 126.7,175.8 127.2,175.4 127.7,174.9 128.2,174.5 128.7,174.1 129.2,173.7 129.7,173.3 130.2,172.8 130.7,172.4 131.2,172.0 131.7,171.6 132.2,171.2 132.7,170.8 133.2,170.4 133.7,170.0 134.2,169.6 134.7,169.2 135.2,168.8 135.7,168.4 136.2,168.0 136.7,167.6 137.2,167.2 137.7,166.8 138.2,166.4 138.7,166.0 139.2,165.6 139.7,165.2 140.0,165.0 141.0,164.2 142.0,163.5 143.0,162.7 144.0,161.9 145.0,161.2 146.0,160.4 147.0,159.7 148.0,159.0 149.0,158.2 150.0,157.5 151.0,156.8 152.0,156.0 153.0,155.3 154.0,154.6 155.0,153.9 156.0,153.2 157.0,152.5 158.0,151.8 159.0,151.1 160.0,150.4 161.0,149.7 162.0,149.1 163.0,148.4 164.0,147.7 165.0,147.0 166.0,146.4 167.0,145.7 168.0,145.0 169.0,144.4 170.0,143.7 171.0,143.1 172.0,142.4 173.0,141.8 174.0,141.2 175.0,140.5 176.0,139.9 177.0,139.3 178.0,138.7 179.0,138.0 180.0,137.4 181.0,136.8 182.0,136.2 183.0,135.6 184.0,135.0 185.0,134.4 186.0,133.8 187.0,133.2 188.0,132.6 189.0,132.0 190.0,131.4 191.0,130.9 192.0,130.3 193.0,129.7 194.0,129.1 195.0,128.6 196.0,128.0 197.0,127.4 198.0,126.9 199.0,126.3 200.0,125.8 201.0,125.2 202.0,124.7 203.0,124.1 204.0,123.6 205.0,123.0 206.0,122.5 207.0,121.9 208.0,121.4 209.0,120.9 210.0,120.4 211.0,119.8 212.0,119.3 213.0,118.8 214.0,118.3 215.0,117.8 216.0,117.3 217.0,116.7 218.0,116.2 219.0,115.7 220.0,115.2 221.0,114.7 222.0,114.2 223.0,113.7 224.0,113.2 225.0,112.8 226.0,112.3 227.0,111.8 228.0,111.3 229.0,110.8 230.0,110.4 231.0,109.9 232.0,109.4 233.0,108.9 234.0,108.5 235.0,108.0 236.0,107.5 237.0,107.1 238.0,106.6 239.0,106.2 240.0,105.7 241.0,105.2 242.0,104.8 243.0,104.3 244.0,103.9 245.0,103.5 246.0,103.0 247.0,102.6 248.0,102.1 249.0,101.7 250.0,101.3 251.0,100.8 252.0,100.4 253.0,100.0 254.0,99.6 255.0,99.1 256.0,98.7 257.0,98.3 258.0,97.9 259.0,97.5 260.0,97.0 261.0,96.6 262.0,96.2 263.0,95.8 264.0,95.4 265.0,95.0 266.0,94.6 267.0,94.2 268.0,93.8 269.0,93.4 270.0,93.0 271.0,92.6 272.0,92.2 273.0,91.8 274.0,91.4 275.0,91.0 276.0,90.7 277.0,90.3 278.0,89.9 279.0,89.5 280.0,89.1 281.0,88.8 282.0,88.4 283.0,88.0 284.0,87.6 285.0,87.3 286.0,86.9 287.0,86.5 288.0,86.2 289.0,85.8 290.0,85.4 291.0,85.1 292.0,84.7 293.0,84.4 294.0,84.0 295.0,83.6 296.0,83.3 297.0,82.9 298.0,82.6 299.0,82.2 300.0,81.9 301.0,81.5 302.0,81.2 303.0,80.8 304.0,80.5 305.0,80.2 306.0,79.8 307.0,79.5 308.0,79.2 309.0,78.8 310.0,78.5 311.0,78.2 312.0,77.8 313.0,77.5 314.0,77.2 315.0,76.8 316.0,76.5 317.0,76.2 318.0,75.9 319.0,75.5 320.0,75.2 321.0,74.9 322.0,74.6 323.0,74.3 324.0,73.9 325.0,73.6 326.0,73.3 327.0,73.0 328.0,72.7 329.0,72.4 330.0,72.1 331.0,71.8 332.0,71.5 333.0,71.2 334.0,70.9 335.0,70.5 336.0,70.2 337.0,69.9 338.0,69.6 339.0,69.3 340.0,69.1 341.0,68.8 342.0,68.5 343.0,68.2 344.0,67.9 345.0,67.6 346.0,67.3 347.0,67.0 348.0,66.7 349.0,66.4 350.0,66.1 351.0,65.9 352.0,65.6 353.0,65.3 354.0,65.0 355.0,64.7 356.0,64.4 357.0,64.2 358.0,63.9 359.0,63.6 360.0,63.3 361.0,63.1 362.0,62.8 363.0,62.5 364.0,62.2 365.0,62.0 366.0,61.7 367.0,61.4 368.0,61.2 369.0,60.9 370.0,60.6 371.0,60.3 372.0,60.1 373.0,59.8 374.0,59.6 375.0,59.3 376.0,59.0 377.0,58.8 378.0,58.5 379.0,58.3 380.0,58.0 381.0,57.7 382.0,57.5 383.0,57.2 384.0,57.0 385.0,56.7 386.0,56.5 387.0,56.2 388.0,56.0 389.0,55.7 390.0,55.5 391.0,55.2 392.0,55.0 393.0,54.7 394.0,54.5 395.0,54.2 396.0,54.0 397.0,53.7 398.0,53.5 399.0,53.2 400.0,53.0 401.0,52.8 402.0,52.5 403.0,52.3 404.0,52.0 405.0,51.8 406.0,51.6 407.0,51.3 408.0,51.1 409.0,50.8 410.0,50.6 411.0,50.4 412.0,50.1 413.0,49.9 414.0,49.7 415.0,49.4 416.0,49.2 417.0,49.0 418.0,48.8 419.0,48.5 420.0,48.3 421.0,48.1 422.0,47.8 423.0,47.6 424.0,47.4 425.0,47.2 426.0,46.9 427.0,46.7 428.0,46.5 429.0,46.3 430.0,46.0 431.0,45.8 432.0,45.6 433.0,45.4 434.0,45.2 435.0,44.9 436.0,44.7 437.0,44.5 438.0,44.3 439.0,44.1 440.0,43.9 441.0,43.6 442.0,43.4 443.0,43.2 444.0,43.0 445.0,42.8 446.0,42.6 447.0,42.4 448.0,42.1 449.0,41.9 450.0,41.7 451.0,41.5 452.0,41.3 453.0,41.1 454.0,40.9 455.0,40.7 456.0,40.5 457.0,40.3 458.0,40.1 459.0,39.8 460.0,39.6 461.0,39.4 462.0,39.2 463.0,39.0 464.0,38.8 465.0,38.6 466.0,38.4 467.0,38.2 468.0,38.0 469.0,37.8 470.0,37.6 471.0,37.4 472.0,37.2 473.0,37.0 474.0,36.8 475.0,36.6 476.0,36.4 477.0,36.2 478.0,36.0 479.0,35.8 480.0,35.6 481.0,35.4 482.0,35.2 483.0,35.0 484.0,34.8 485.0,34.7 486.0,34.5 487.0,34.3 488.0,34.1 489.0,33.9 489.6,33.8"/>
</g>
<rect x="299.20" y="213.55" width="12.4" height="0.9" fill="#231f20"/>
<rect x="302.20" y="213.10" width="6.4" height="2.50" fill="#231f20"/>
<rect x="316.30" y="218.30" width="12.4" height="2.2" fill="#ed1c24"/>
<rect x="332.30" y="210.75" width="12.4" height="0.9" fill="#2e3192"/>
<rect x="335.30" y="209.20" width="6.4" height="4.00" fill="#2e3192"/>
<rect x="349.20" y="202.15" width="12.4" height="0.9" fill="#ec008c"/>
<rect x="352.20" y="200.50" width="6.4" height="4.20" fill="#ec008c"/>
<rect x="365.50" y="190.45" width="12.4" height="0.9" fill="#00aeef"/>
<rect x="368.50" y="189.20" width="6.4" height="3.40" fill="#00aeef"/>
<rect x="382.20" y="180.15" width="12.4" height="0.9" fill="#7d5546"/>
<rect x="385.20" y="178.60" width="6.4" height="4.00" fill="#7d5546"/>
<rect x="398.40" y="173.55" width="12.4" height="0.9" fill="#f89894"/>
<rect x="401.40" y="172.40" width="6.4" height="3.20" fill="#f89894"/>
<rect x="414.30" y="175.95" width="12.4" height="0.9" fill="#a7a9ac"/>
<rect x="417.30" y="174.40" width="6.4" height="4.00" fill="#a7a9ac"/>
<rect x="431.30" y="177.35" width="12.4" height="0.9" fill="#00a651"/>
<rect x="434.30" y="176.30" width="6.4" height="3.00" fill="#00a651"/>
<rect x="447.40" y="150.35" width="12.4" height="0.9" fill="#0072bc"/>
<rect x="450.40" y="148.10" width="6.4" height="5.40" fill="#0072bc"/>
<rect x="524.3" y="22.2" width="30.4" height="0.6" fill="#fff"/>
<rect x="524.3" y="43.20" width="30.4" height="2.60" fill="#231f20"/>
<rect x="524.3" y="66.00" width="30.4" height="2.60" fill="#ed1c24"/>
<rect x="524.3" y="88.80" width="30.4" height="2.60" fill="#2e3192"/>
<rect x="524.3" y="111.60" width="30.4" height="2.60" fill="#ec008c"/>
<rect x="524.3" y="134.40" width="30.4" height="2.60" fill="#00aeef"/>
<rect x="524.3" y="157.20" width="30.4" height="2.60" fill="#7b2e00"/>
<rect x="524.3" y="180.00" width="30.4" height="2.60" fill="#f89894"/>
<rect x="524.3" y="202.80" width="30.4" height="2.60" fill="#a7a9ac"/>
<rect x="524.3" y="225.60" width="30.4" height="2.60" fill="#00a651"/>
<rect x="524.3" y="248.40" width="30.4" height="2.60" fill="#0072bc"/>
<text transform="translate(564.80,28.70) scale(0.945,1)" text-anchor="start" textLength="60.3" lengthAdjust="spacingAndGlyphs">Deciles</text>
<text transform="translate(564.80,51.10) scale(0.945,1)" text-anchor="start" textLength="25.6" lengthAdjust="spacingAndGlyphs">1st</text>
<text transform="translate(564.80,73.90) scale(0.945,1)" text-anchor="start" textLength="32.3" lengthAdjust="spacingAndGlyphs">2nd</text>
<text transform="translate(564.80,96.70) scale(0.945,1)" text-anchor="start" textLength="29.0" lengthAdjust="spacingAndGlyphs">3rd</text>
<text transform="translate(564.80,119.50) scale(0.945,1)" text-anchor="start" textLength="28.9" lengthAdjust="spacingAndGlyphs">4th</text>
<text transform="translate(564.80,142.30) scale(0.945,1)" text-anchor="start" textLength="28.9" lengthAdjust="spacingAndGlyphs">5th</text>
<text transform="translate(564.80,165.10) scale(0.945,1)" text-anchor="start" textLength="28.9" lengthAdjust="spacingAndGlyphs">6th</text>
<text transform="translate(564.80,187.90) scale(0.945,1)" text-anchor="start" textLength="28.9" lengthAdjust="spacingAndGlyphs">7th</text>
<text transform="translate(564.80,210.70) scale(0.945,1)" text-anchor="start" textLength="28.9" lengthAdjust="spacingAndGlyphs">8th</text>
<text transform="translate(564.80,233.50) scale(0.945,1)" text-anchor="start" textLength="28.9" lengthAdjust="spacingAndGlyphs">9th</text>
<text transform="translate(564.80,256.30) scale(0.945,1)" text-anchor="start" textLength="38.9" lengthAdjust="spacingAndGlyphs">10th</text>
<text transform="translate(34.00,32.00) scale(0.945,1)" text-anchor="end">0.5</text>
<text transform="translate(34.00,155.60) scale(0.945,1)" text-anchor="end">0.25</text>
<text transform="translate(34.00,279.20) scale(0.945,1)" text-anchor="end">0</text>
<text transform="translate(51.00,302.20) scale(0.945,1)" text-anchor="middle">0</text>
<text transform="translate(197.33,302.20) scale(0.945,1)" text-anchor="middle">100</text>
<text transform="translate(343.66,302.20) scale(0.945,1)" text-anchor="middle">200</text>
<text transform="translate(489.99,302.20) scale(0.945,1)" text-anchor="middle">300</text>
<text transform="translate(270.40,334.40) scale(0.945,1)" text-anchor="middle" textLength="99.2" lengthAdjust="spacingAndGlyphs"><tspan font-style="italic">t</tspan> (minutes)</text>
<text transform="translate(280.60,162.80) scale(0.945,1)" text-anchor="end">120</text>
<text transform="translate(280.60,200.80) scale(0.945,1)" text-anchor="end">90</text>
<text transform="translate(280.60,239.00) scale(0.945,1)" text-anchor="end">60</text>
<text transform="translate(235.70,192.60) rotate(-90) scale(0.945,1)" text-anchor="middle" textLength="100.3" lengthAdjust="spacingAndGlyphs"><tspan font-style="italic">τ</tspan> (minutes)</text>
</g>
</svg></body></html>
